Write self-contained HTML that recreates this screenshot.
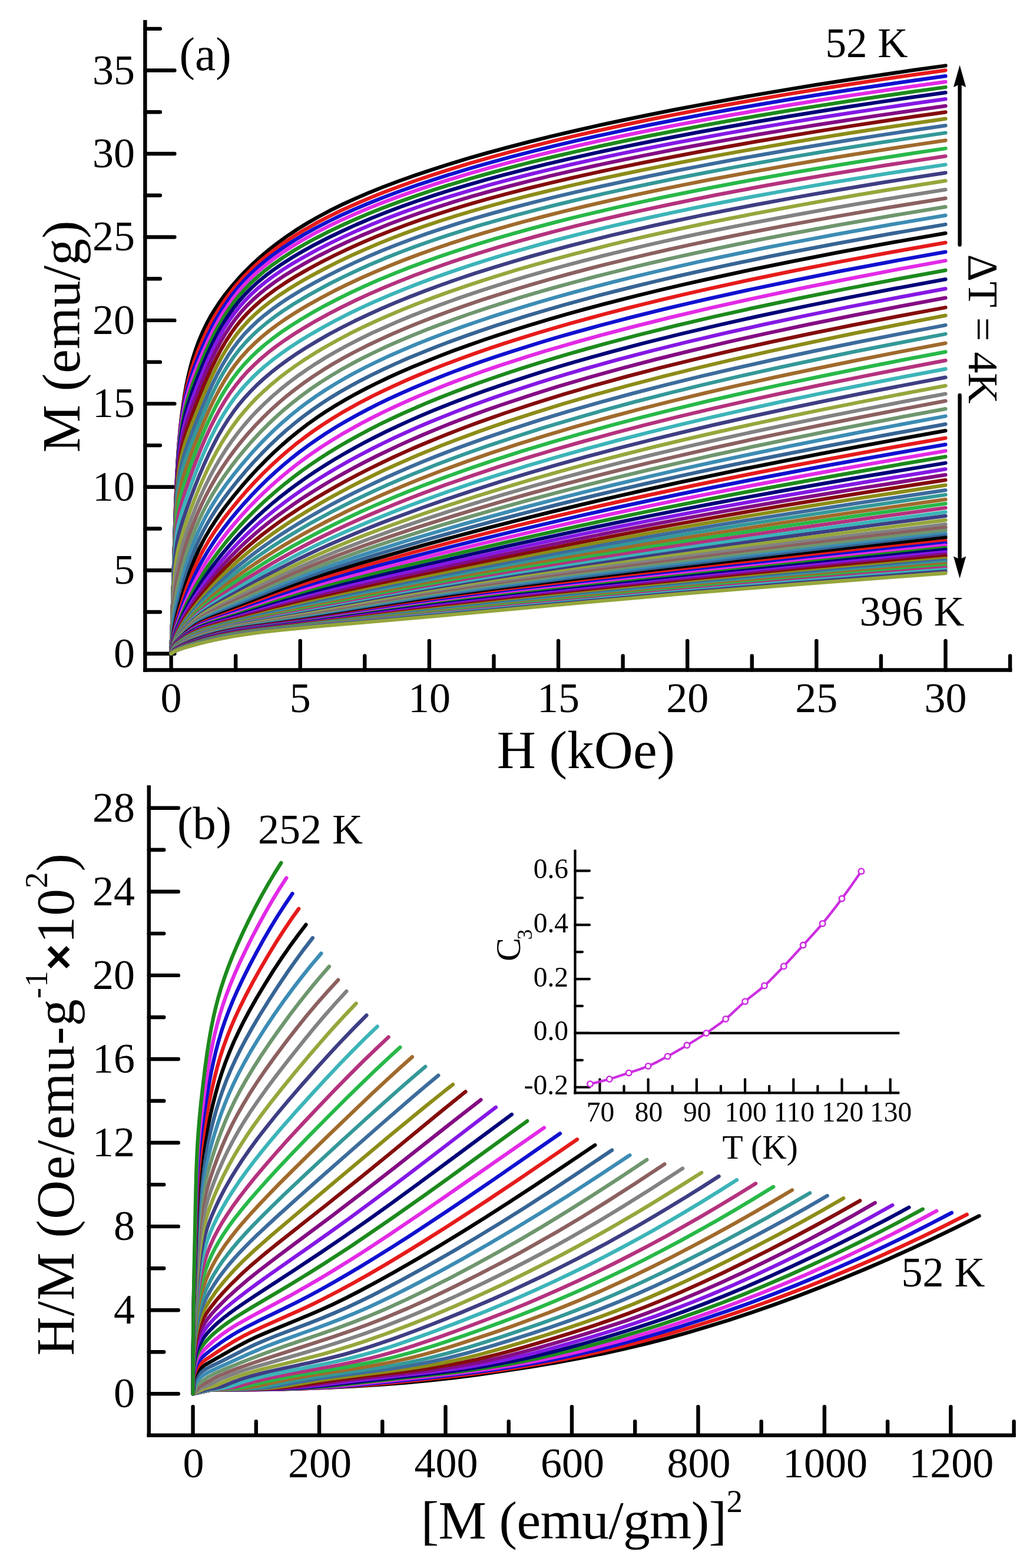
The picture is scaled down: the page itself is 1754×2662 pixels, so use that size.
<!DOCTYPE html>
<html lang="en">
<head>
<meta charset="utf-8">
<title>Magnetization isotherms and Arrott plot</title>
<style>
html,body{margin:0;padding:0;background:#fff;}
body{width:1754px;height:2662px;overflow:hidden;}
svg{display:block;}
text{white-space:pre;}
</style>
</head>
<body>
<svg width="1754" height="2662" viewBox="0 0 1754 2662" role="img" aria-label="Magnetization isotherms M(H) and Arrott plot">
<rect width="1754" height="2662" fill="#fff"/>
<line x1="246.4" y1="34" x2="246.4" y2="1140.7" stroke="#000" stroke-width="6.4" stroke-linecap="butt"/>
<line x1="243.2" y1="1137.5" x2="1718.4" y2="1137.5" stroke="#000" stroke-width="6.4" stroke-linecap="butt"/>
<line x1="246.4" y1="1109.7" x2="296.4" y2="1109.7" stroke="#000" stroke-width="6.4" stroke-linecap="round"/>
<line x1="246.4" y1="1038.98" x2="271.9" y2="1038.98" stroke="#000" stroke-width="6.4" stroke-linecap="round"/>
<line x1="246.4" y1="968.25" x2="296.4" y2="968.25" stroke="#000" stroke-width="6.4" stroke-linecap="round"/>
<line x1="246.4" y1="897.525" x2="271.9" y2="897.525" stroke="#000" stroke-width="6.4" stroke-linecap="round"/>
<line x1="246.4" y1="826.8" x2="296.4" y2="826.8" stroke="#000" stroke-width="6.4" stroke-linecap="round"/>
<line x1="246.4" y1="756.075" x2="271.9" y2="756.075" stroke="#000" stroke-width="6.4" stroke-linecap="round"/>
<line x1="246.4" y1="685.35" x2="296.4" y2="685.35" stroke="#000" stroke-width="6.4" stroke-linecap="round"/>
<line x1="246.4" y1="614.625" x2="271.9" y2="614.625" stroke="#000" stroke-width="6.4" stroke-linecap="round"/>
<line x1="246.4" y1="543.9" x2="296.4" y2="543.9" stroke="#000" stroke-width="6.4" stroke-linecap="round"/>
<line x1="246.4" y1="473.175" x2="271.9" y2="473.175" stroke="#000" stroke-width="6.4" stroke-linecap="round"/>
<line x1="246.4" y1="402.45" x2="296.4" y2="402.45" stroke="#000" stroke-width="6.4" stroke-linecap="round"/>
<line x1="246.4" y1="331.725" x2="271.9" y2="331.725" stroke="#000" stroke-width="6.4" stroke-linecap="round"/>
<line x1="246.4" y1="261" x2="296.4" y2="261" stroke="#000" stroke-width="6.4" stroke-linecap="round"/>
<line x1="246.4" y1="190.275" x2="271.9" y2="190.275" stroke="#000" stroke-width="6.4" stroke-linecap="round"/>
<line x1="246.4" y1="119.55" x2="296.4" y2="119.55" stroke="#000" stroke-width="6.4" stroke-linecap="round"/>
<line x1="246.4" y1="48.825" x2="271.9" y2="48.825" stroke="#000" stroke-width="6.4" stroke-linecap="round"/>
<line x1="290.6" y1="1137.5" x2="290.6" y2="1088" stroke="#000" stroke-width="6.4" stroke-linecap="round"/>
<line x1="400.175" y1="1137.5" x2="400.175" y2="1113.5" stroke="#000" stroke-width="6.4" stroke-linecap="round"/>
<line x1="509.75" y1="1137.5" x2="509.75" y2="1088" stroke="#000" stroke-width="6.4" stroke-linecap="round"/>
<line x1="619.325" y1="1137.5" x2="619.325" y2="1113.5" stroke="#000" stroke-width="6.4" stroke-linecap="round"/>
<line x1="728.9" y1="1137.5" x2="728.9" y2="1088" stroke="#000" stroke-width="6.4" stroke-linecap="round"/>
<line x1="838.475" y1="1137.5" x2="838.475" y2="1113.5" stroke="#000" stroke-width="6.4" stroke-linecap="round"/>
<line x1="948.05" y1="1137.5" x2="948.05" y2="1088" stroke="#000" stroke-width="6.4" stroke-linecap="round"/>
<line x1="1057.62" y1="1137.5" x2="1057.62" y2="1113.5" stroke="#000" stroke-width="6.4" stroke-linecap="round"/>
<line x1="1167.2" y1="1137.5" x2="1167.2" y2="1088" stroke="#000" stroke-width="6.4" stroke-linecap="round"/>
<line x1="1276.78" y1="1137.5" x2="1276.78" y2="1113.5" stroke="#000" stroke-width="6.4" stroke-linecap="round"/>
<line x1="1386.35" y1="1137.5" x2="1386.35" y2="1088" stroke="#000" stroke-width="6.4" stroke-linecap="round"/>
<line x1="1495.93" y1="1137.5" x2="1495.93" y2="1113.5" stroke="#000" stroke-width="6.4" stroke-linecap="round"/>
<line x1="1605.5" y1="1137.5" x2="1605.5" y2="1088" stroke="#000" stroke-width="6.4" stroke-linecap="round"/>
<line x1="1715.07" y1="1137.5" x2="1715.07" y2="1113.5" stroke="#000" stroke-width="6.4" stroke-linecap="round"/>
<g font-family='"Liberation Serif", "Times New Roman", serif' fill="#000">
<text x="229" y="1132.7" font-size="72" text-anchor="end">0</text>
<text x="229" y="991.25" font-size="72" text-anchor="end">5</text>
<text x="229" y="849.8" font-size="72" text-anchor="end">10</text>
<text x="229" y="708.35" font-size="72" text-anchor="end">15</text>
<text x="229" y="566.9" font-size="72" text-anchor="end">20</text>
<text x="229" y="425.45" font-size="72" text-anchor="end">25</text>
<text x="229" y="284" font-size="72" text-anchor="end">30</text>
<text x="229" y="142.55" font-size="72" text-anchor="end">35</text>
<text x="290.6" y="1209" font-size="72" text-anchor="middle">0</text>
<text x="509.75" y="1209" font-size="72" text-anchor="middle">5</text>
<text x="728.9" y="1209" font-size="72" text-anchor="middle">10</text>
<text x="948.05" y="1209" font-size="72" text-anchor="middle">15</text>
<text x="1167.2" y="1209" font-size="72" text-anchor="middle">20</text>
<text x="1386.35" y="1209" font-size="72" text-anchor="middle">25</text>
<text x="1605.5" y="1209" font-size="72" text-anchor="middle">30</text>
<text x="994.8" y="1304.4" font-size="91.5" text-anchor="middle">H (kOe)</text>
<text x="134.5" y="571.5" font-size="91.5" text-anchor="middle" transform="rotate(-90 134.5 571.5)">M (emu/g)</text>
<text x="304.5" y="118.6" font-size="79.5" text-anchor="start">(a)</text>
<text x="1471.5" y="97.3" font-size="71" text-anchor="middle">52 K</text>
<text x="1548.5" y="1062.4" font-size="72" text-anchor="middle">396 K</text>
<text x="1645" y="558.5" font-size="72" text-anchor="middle" transform="rotate(90 1645 558.5)">ΔT = 4K</text>
</g>
<line x1="252.8" y1="1333.3" x2="252.8" y2="2439.9" stroke="#000" stroke-width="6.4" stroke-linecap="butt"/>
<line x1="249.6" y1="2436.7" x2="1724.7" y2="2436.7" stroke="#000" stroke-width="6.4" stroke-linecap="butt"/>
<line x1="252.8" y1="2366.3" x2="302.8" y2="2366.3" stroke="#000" stroke-width="6.4" stroke-linecap="round"/>
<line x1="252.8" y1="2295.26" x2="278.3" y2="2295.26" stroke="#000" stroke-width="6.4" stroke-linecap="round"/>
<line x1="252.8" y1="2224.22" x2="302.8" y2="2224.22" stroke="#000" stroke-width="6.4" stroke-linecap="round"/>
<line x1="252.8" y1="2153.18" x2="278.3" y2="2153.18" stroke="#000" stroke-width="6.4" stroke-linecap="round"/>
<line x1="252.8" y1="2082.14" x2="302.8" y2="2082.14" stroke="#000" stroke-width="6.4" stroke-linecap="round"/>
<line x1="252.8" y1="2011.1" x2="278.3" y2="2011.1" stroke="#000" stroke-width="6.4" stroke-linecap="round"/>
<line x1="252.8" y1="1940.06" x2="302.8" y2="1940.06" stroke="#000" stroke-width="6.4" stroke-linecap="round"/>
<line x1="252.8" y1="1869.02" x2="278.3" y2="1869.02" stroke="#000" stroke-width="6.4" stroke-linecap="round"/>
<line x1="252.8" y1="1797.98" x2="302.8" y2="1797.98" stroke="#000" stroke-width="6.4" stroke-linecap="round"/>
<line x1="252.8" y1="1726.94" x2="278.3" y2="1726.94" stroke="#000" stroke-width="6.4" stroke-linecap="round"/>
<line x1="252.8" y1="1655.9" x2="302.8" y2="1655.9" stroke="#000" stroke-width="6.4" stroke-linecap="round"/>
<line x1="252.8" y1="1584.86" x2="278.3" y2="1584.86" stroke="#000" stroke-width="6.4" stroke-linecap="round"/>
<line x1="252.8" y1="1513.82" x2="302.8" y2="1513.82" stroke="#000" stroke-width="6.4" stroke-linecap="round"/>
<line x1="252.8" y1="1442.78" x2="278.3" y2="1442.78" stroke="#000" stroke-width="6.4" stroke-linecap="round"/>
<line x1="252.8" y1="1371.74" x2="302.8" y2="1371.74" stroke="#000" stroke-width="6.4" stroke-linecap="round"/>
<line x1="327.6" y1="2436.7" x2="327.6" y2="2388.2" stroke="#000" stroke-width="6.4" stroke-linecap="round"/>
<line x1="434.83" y1="2436.7" x2="434.83" y2="2413.2" stroke="#000" stroke-width="6.4" stroke-linecap="round"/>
<line x1="542.06" y1="2436.7" x2="542.06" y2="2388.2" stroke="#000" stroke-width="6.4" stroke-linecap="round"/>
<line x1="649.29" y1="2436.7" x2="649.29" y2="2413.2" stroke="#000" stroke-width="6.4" stroke-linecap="round"/>
<line x1="756.52" y1="2436.7" x2="756.52" y2="2388.2" stroke="#000" stroke-width="6.4" stroke-linecap="round"/>
<line x1="863.75" y1="2436.7" x2="863.75" y2="2413.2" stroke="#000" stroke-width="6.4" stroke-linecap="round"/>
<line x1="970.98" y1="2436.7" x2="970.98" y2="2388.2" stroke="#000" stroke-width="6.4" stroke-linecap="round"/>
<line x1="1078.21" y1="2436.7" x2="1078.21" y2="2413.2" stroke="#000" stroke-width="6.4" stroke-linecap="round"/>
<line x1="1185.44" y1="2436.7" x2="1185.44" y2="2388.2" stroke="#000" stroke-width="6.4" stroke-linecap="round"/>
<line x1="1292.67" y1="2436.7" x2="1292.67" y2="2413.2" stroke="#000" stroke-width="6.4" stroke-linecap="round"/>
<line x1="1399.9" y1="2436.7" x2="1399.9" y2="2388.2" stroke="#000" stroke-width="6.4" stroke-linecap="round"/>
<line x1="1507.13" y1="2436.7" x2="1507.13" y2="2413.2" stroke="#000" stroke-width="6.4" stroke-linecap="round"/>
<line x1="1614.36" y1="2436.7" x2="1614.36" y2="2388.2" stroke="#000" stroke-width="6.4" stroke-linecap="round"/>
<line x1="1721.59" y1="2436.7" x2="1721.59" y2="2413.2" stroke="#000" stroke-width="6.4" stroke-linecap="round"/>
<g fill="none" stroke-width="6.3" stroke-linejoin="round" stroke-linecap="round">
<path stroke="#000000" d="M290.6 1109.7L297.9 866.2L299.9 814.1L302.3 771.4L304 748.9L305.8 728.7L308.1 708.3L310.6 689.2L313.3 671.3L316.3 654.5L319.6 638.9L323.2 623.6L327.7 607.6L332.6 592.5L337.9 578.2L343.9 564.1L350.3 550.6L357.5 537.2L365.3 524.4L373.5 512L383.1 498.9L393.3 486.2L404.6 473.2L416.6 460.4L429.2 448.1L442.3 436.1L455.8 424.7L469.8 413.7L485.8 402L503.2 390.3L521.1 379.2L539.4 368.7L559 358.2L580.3 347.7L601.7 337.8L624.7 327.9L649.4 317.9L676 307.9L704.5 297.7L733 288.2L763.4 278.5L796 268.6L828.2 259.4L862.5 250.1L899 240.6L937.8 231L975.9 222.1L1016.1 213L1058.7 203.8L1100 195.3L1143.5 186.7L1189.3 178L1237.6 169.1L1283.7 161L1337.1 152L1388.1 143.7L1441.5 135.4L1491.9 127.8L1550.4 119.2L1605.5 111.5"/>
<path stroke="#e61a1a" d="M290.6 1109.7L297.7 871.6L299.7 819.2L301.9 778.4L303.4 757.1L305 738.1L306.8 720.5L308.9 704L311.2 688.3L313.8 673.4L316.6 659.7L319.7 646.5L324.3 629.8L329.7 613.3L336.1 596L343.4 578.6L350.9 562.3L358.8 546.8L367.1 532.3L375.9 518.2L384.9 505.2L394.8 492.1L404.6 480.3L415.4 468.4L426.6 457.2L438.7 446L452 434.8L465.5 424.2L481.2 412.9L498.2 401.5L516.8 390.2L535.8 379.4L556.5 368.5L577.5 358.2L600.2 347.8L624.7 337.3L651.1 326.7L677.8 316.6L706.4 306.4L735.1 296.8L765.7 287L798.4 277.1L830.8 267.7L865.3 258.3L901.9 248.7L937.8 239.8L975.9 230.7L1016.1 221.6L1058.7 212.3L1100 203.7L1143.5 195L1189.3 186.2L1237.6 177.3L1283.7 169.1L1337.1 160L1388.1 151.7L1441.5 143.3L1491.9 135.6L1550.4 127.1L1605.5 119.3"/>
<path stroke="#1010d0" d="M290.6 1109.7L297.5 877.3L299.5 826.2L301.5 786.2L302.9 765.6L304.4 747.4L306.1 730.6L307.9 715L310 700.5L312.4 686.8L314.9 674.5L317.8 662.1L322.5 645.7L328.1 628.9L335.5 609.2L343.9 589L351.7 571.7L360.1 554.8L368.9 538.9L378 523.9L387.1 510.2L396.3 497.9L405.7 486.3L416 474.8L427.2 463.5L438.7 452.9L451.2 442.3L464.7 431.8L481.2 420.1L498.2 409L516.8 397.8L535.8 387.2L556.5 376.5L578.9 365.7L601.7 355.4L626.3 345L652.9 334.4L679.6 324.4L708.4 314.3L737.2 304.7L768 294.9L800.8 285L833.4 275.7L868 266.3L904.8 256.8L940.9 247.8L979.1 238.8L1019.6 229.7L1062.4 220.5L1103.9 211.9L1147.5 203.3L1193.6 194.5L1242.1 185.7L1288.5 177.6L1337.1 169.4L1388.1 161.2L1441.5 152.8L1491.9 145.3L1550.4 136.8L1605.5 129.1"/>
<path stroke="#e22ae6" d="M290.6 1109.7L297.4 881.2L299.3 831L301.3 792.5L302.6 773.1L304 755.9L305.6 739.5L307.4 725L309.4 711L311.6 698.5L314.1 686.1L316.9 674.3L321.7 657.7L327.5 640.6L336.1 618.2L345.4 595.8L353.8 577.3L362.1 560.5L370.8 544.6L379.6 529.8L388.5 516.4L397.3 504.4L406.8 492.6L416.6 481.7L427.2 470.9L438.7 460.3L451.2 449.8L464.7 439.4L480.3 428.4L497.2 417.5L515.7 406.4L535.8 395.3L556.5 384.7L578.9 374L603.2 363.1L627.9 352.7L652.9 342.8L679.6 332.8L708.4 322.7L737.2 313.1L768 303.4L800.8 293.6L833.4 284.3L868 275L904.8 265.5L940.9 256.7L979.1 247.8L1019.6 238.7L1062.4 229.6L1103.9 221.1L1147.5 212.5L1193.6 203.9L1242.1 195.1L1288.5 187.1L1337.1 178.9L1388.1 170.7L1441.5 162.5L1491.9 155L1550.4 146.5L1605.5 138.9"/>
<path stroke="#1c8a1c" d="M290.6 1109.7L297.3 887.3L299.1 838L301.1 800.3L302.3 781.4L303.7 764.8L305.2 749.6L306.9 735.7L308.9 722.2L311 710.1L313.4 698.2L316.2 686.9L321 670.3L327 652.7L336.3 628.3L345.9 605L354.4 586L362.8 568.8L371.2 553.1L380.1 538L389 524.4L397.8 512.2L406.8 501L416.6 490.1L427.2 479.3L438.7 468.8L451.2 458.4L463.9 448.8L480.3 437.3L497.2 426.5L515.7 415.6L535.8 404.6L557.8 393.4L580.3 382.6L604.7 371.6L629.5 361.2L654.6 351.2L681.5 341.2L708.4 331.7L737.2 322.1L768 312.4L798.4 303.3L830.8 294.1L865.3 284.8L901.9 275.3L937.8 266.6L975.9 257.7L1016.1 248.7L1058.7 239.6L1100 231.2L1143.5 222.6L1189.3 214L1237.6 205.2L1283.7 197.2L1337.1 188.2L1388.1 180L1441.5 171.7L1491.9 164.1L1550.4 155.7L1605.5 148"/>
<path stroke="#000078" d="M290.6 1109.7L297.1 893.4L299 844.4L300.8 808.5L302.1 790.2L303.4 774.2L304.9 759.7L306.5 746.5L308.4 733.7L310.6 721.7L313 710.3L315.7 699.3L320.6 682.7L326.8 664.4L337 637.7L346.7 613.9L355 595.1L363.5 577.5L371.9 561.6L380.5 546.9L389 533.8L397.3 522.2L406.3 510.9L416 500L426.6 489.3L438 478.8L450.4 468.6L463.1 459L478.5 448.3L496.3 437L514.6 426.2L535.8 414.6L557.8 403.4L580.3 392.6L604.7 381.5L629.5 370.9L654.6 360.9L679.6 351.4L706.4 341.9L735.1 332.2L763.4 323.2L793.6 314.2L825.7 305L857.1 296.5L893.3 287.2L928.7 278.5L969.4 269L1009.2 260L1051.5 251L1092.3 242.6L1139.4 233.3L1185 224.6L1233.1 215.8L1283.7 206.9L1337.1 197.9L1388.1 189.6L1441.5 181.1L1491.9 173.5L1550.4 164.9L1605.5 157.1"/>
<path stroke="#8418e4" d="M290.6 1109.7L297 899.5L298.8 851L300.6 816.1L301.8 799.2L303.1 784L304.5 770.2L306.1 757.7L308 745.6L310.2 733.8L312.6 723L315.4 712L320.4 695.1L326.8 676.5L337.9 647.4L347.8 623.1L356.3 603.9L364.6 586.6L372.7 571.2L381.3 556.3L389.9 543L398.3 531.4L407.4 520.1L416.6 509.7L427.2 499.1L438.7 488.7L450.4 479.1L463.9 469L479.4 458.4L497.2 447.2L516.8 435.9L538.2 424.3L560.3 413L584.4 401.5L607.7 391L632.8 380.4L658.1 370.2L683.4 360.7L710.4 351.1L737.2 342.1L765.7 333L796 323.9L828.2 314.8L859.8 306.2L896.1 296.9L931.7 288.2L969.4 279.4L1009.2 270.5L1051.5 261.5L1092.3 253.1L1139.4 243.9L1185 235.3L1233.1 226.5L1283.7 217.7L1332.1 209.5L1382.8 201.2L1436.1 192.9L1491.9 184.5L1550.4 175.9L1605.5 168.2"/>
<path stroke="#840c84" d="M290.6 1109.7L296.8 906.4L298.6 858.5L300.4 823.8L301.6 807.6L302.8 793.7L304.1 781.2L305.7 769.3L307.5 758.1L309.7 747L312.1 736.4L314.8 726L320 708.9L326.8 689.5L339 657.7L349.2 632.9L357.5 614.1L365.6 597.3L373.9 581.7L382.6 566.7L391.4 553.2L399.8 541.5L409 530.2L418.4 519.8L429.2 509.2L440.8 498.8L452.7 489.1L466.4 479L482.1 468.4L500.2 457.2L520 445.8L541.7 434.1L564.2 422.7L588.7 411.1L612.2 400.5L637.7 389.8L661.6 380.2L687.1 370.6L714.4 360.9L741.5 351.9L770.2 342.8L800.8 333.6L833.4 324.4L865.3 315.9L899 307.2L934.8 298.5L972.6 289.7L1012.7 280.8L1055.1 271.8L1096.2 263.5L1143.5 254.2L1189.3 245.7L1237.6 237L1288.5 228.2L1337.1 220L1388.1 211.8L1441.5 203.6L1491.9 196L1550.4 187.6L1605.5 179.9"/>
<path stroke="#840c0c" d="M290.6 1109.7L296.6 913.9L298.4 866.7L300.2 832.9L302.4 804.3L303.7 792.3L305.2 781.1L306.9 771L308.9 760.7L311.3 750.8L314 740.7L319.2 724.3L326 705.5L340.2 669.2L350.6 644.1L358.8 625.7L367.1 608.8L375.5 592.9L384 578.5L392.8 565L401.4 553.2L410.7 541.8L420.2 531.5L431.2 520.8L442.3 510.9L455.1 500.7L468.9 490.5L484.9 479.8L503.2 468.5L523.3 457L545.4 445.1L568.1 433.5L591.5 422.4L615.3 411.6L639.3 401.4L663.3 391.8L689 382.1L714.4 373L741.5 363.9L770.2 354.8L798.4 346.3L828.2 337.8L859.8 329.3L896.1 319.9L931.7 311.2L969.4 302.4L1009.2 293.5L1051.5 284.5L1092.3 276.1L1139.4 266.8L1185 258.2L1233.1 249.4L1283.7 240.4L1337.1 231.3L1388.1 223L1441.5 214.5L1491.9 206.8L1550.4 198.2L1605.5 190.3"/>
<path stroke="#8c8c18" d="M290.6 1109.7L296.3 923.7L298.2 875.4L299.9 842L301 827.6L302.1 814.7L303.4 803.4L304.8 793.3L306.4 783.8L308.3 774.7L310.7 765.1L313.3 755.7L318.5 740L325.6 720.7L341.6 680.6L352.3 655.2L360.8 636.6L368.9 620.2L377.1 605L385.8 590.5L394.3 577.7L403 565.9L412.5 554.6L422.7 543.5L433.9 532.8L445.2 523L458.2 512.7L472.3 502.5L488.6 491.8L507.3 480.3L527.8 468.6L550.3 456.6L572.1 445.5L595.8 434.1L620 423.3L644.3 412.9L668.7 403.1L692.8 394L718.5 384.8L745.8 375.6L772.5 367.1L800.8 358.5L830.8 350L862.5 341.3L899 331.9L934.8 323.1L972.6 314.2L1012.7 305.2L1055.1 296.1L1096.2 287.6L1143.5 278.2L1189.3 269.4L1237.6 260.5L1288.5 251.5L1337.1 243.2L1388.1 234.7L1441.5 226.2L1491.9 218.4L1550.4 209.6L1605.5 201.7"/>
<path stroke="#3c6c9c" d="M290.6 1109.7L296 935.5L297.9 885.8L299.8 851.4L300.8 837.9L301.9 826L303.2 815.6L304.6 806.3L306.3 797.2L308.3 788.5L310.7 779.2L313.4 769.9L319.2 753.1L327 732.4L342.4 693.9L353.2 668.4L361.8 649.8L370 633.5L378.4 618.3L387.1 603.8L396.3 590.4L405.2 578.7L414.8 567.3L425.3 556.4L436.6 545.7L448.9 535.2L462.3 524.9L476.7 514.6L493.3 503.7L512.5 492.1L533.5 480.3L555.2 468.7L577.5 457.5L601.7 446L624.7 435.7L649.4 425.2L674.1 415.3L698.6 406.1L724.6 396.8L750.1 388.2L779.4 378.8L808.2 370.1L838.6 361.4L870.8 352.6L904.8 343.7L940.9 334.8L979.1 325.7L1019.6 316.6L1062.4 307.3L1103.9 298.7L1147.5 289.9L1193.6 281L1242.1 271.9L1288.5 263.6L1337.1 255.1L1388.1 246.6L1441.5 237.9L1491.9 230L1550.4 221.2L1605.5 213.1"/>
<path stroke="#349898" d="M290.6 1109.7L295.5 950.1L297.7 896.6L299.7 861.6L300.7 849.3L301.8 838.5L303.1 828.6L304.6 819.9L306.4 811.4L308.5 802.7L311.3 792.9L314.4 782.7L321.3 763.2L331 737.7L343.4 707L353.5 683.4L362.1 664.9L370.8 647.9L379.2 632.9L388.1 618.6L396.8 605.9L406.3 593.6L416.6 581.7L427.2 570.7L439.4 559.3L452 548.8L465.5 538.4L481.2 527.4L498.2 516.4L516.8 505.3L538.2 493.2L560.3 481.4L581.7 470.7L604.7 459.8L627.9 449.4L652.9 438.8L677.8 428.9L702.5 419.5L728.8 410.1L756.7 400.7L784.1 391.9L813.1 383.1L843.8 374.2L876.3 365.2L910.7 356.2L947.1 347.1L985.7 337.9L1023 329.3L1066.1 319.9L1107.7 311.1L1151.6 302.2L1197.9 293.2L1246.6 284L1293.2 275.6L1342.1 267L1393.3 258.4L1447 249.6L1497.6 241.7L1550.4 233.6L1605.5 225.5"/>
<path stroke="#a06a2c" d="M290.6 1109.7L295 964.8L297.5 907L298.7 886.5L299.8 870.3L300.9 859.2L302.2 849.1L303.6 840.3L305.2 832.1L307.4 823.3L310.3 812.8L313.8 801.6L317.7 789.8L326.1 766.4L337 738.5L346.2 716.1L355 696L363.5 678.4L372.3 661.6L381.3 646L390.4 631.9L399.8 618.7L409.6 606.6L420.2 594.8L431.2 583.9L443.7 572.6L456.6 562L470.6 551.5L486.7 540.4L504.2 529.2L523.3 517.8L544.1 506.2L566.8 494.2L588.7 483.4L612.2 472.3L636 461.8L659.8 451.8L685.2 441.7L710.4 432.2L737.2 422.6L765.7 413L793.6 404.1L823.1 395.1L854.4 386L887.6 376.8L922.6 367.6L956.6 359L995.7 349.6L1033.6 340.9L1073.5 332L1115.5 323.1L1159.9 314L1202.2 305.7L1246.6 297.3L1293.2 288.8L1342.1 280.1L1393.3 271.4L1447 262.6L1497.6 254.6L1550.4 246.5L1605.5 238.3"/>
<path stroke="#28b848" d="M290.6 1109.7L295 965.6L297.6 911.9L298.9 893.1L300.2 878.5L301.4 868.5L302.8 859.8L304.5 851.5L306.5 843.3L310.2 830.4L314.7 816.2L319.6 801.6L325 786.3L333.8 762.9L342.9 740.4L351.2 721.1L359.5 703.4L368.2 686.3L376.7 671L385.8 656.4L394.8 643.2L404.1 631L414.2 619L425.3 607.3L436.6 596.5L449.7 585.1L463.1 574.5L477.6 563.9L493.3 553.3L511.5 541.9L531.2 530.3L551.5 519.1L573.5 507.6L595.8 496.6L620 485.4L644.3 474.7L668.7 464.6L694.7 454.3L720.5 444.7L747.9 435L777.1 425.2L808.2 415.3L838.6 406L870.8 396.7L901.9 388.1L937.8 378.6L972.6 369.8L1009.2 361L1047.8 352L1088.5 343L1127.4 334.7L1168.2 326.3L1210.9 317.9L1255.8 309.4L1302.8 300.8L1352.1 292.1L1398.5 284.3L1447 276.3L1497.6 268.3L1550.4 260.2L1605.5 252"/>
<path stroke="#b4327e" d="M290.6 1109.7L295 966.8L296.4 940L297.7 919.2L299 902.8L300.4 890.2L301.8 880.5L303.6 871.8L305.6 863.5L308.8 852.7L314.2 835.3L320 817.9L326.1 800.5L332.8 782.8L340.9 762.4L348.9 743.6L356.9 726.2L365.3 709.5L373.5 694.5L382.2 679.9L391.4 666.1L400.4 653.9L410.2 641.8L420.2 630.7L431.2 619.7L443 608.9L455.8 598.1L468.9 588L483.9 577.3L499.2 567.2L516.8 556.2L537 544.4L557.8 533L580.3 521.4L603.2 510.2L626.3 499.5L651.1 488.6L676 478.4L702.5 467.9L728.8 458.1L756.7 448.2L784.1 439L815.6 428.9L846.4 419.5L879.1 409.9L910.7 401.1L944 392.3L979.1 383.3L1016.1 374.2L1055.1 365.1L1092.3 356.7L1131.4 348.3L1172.4 339.8L1215.3 331.2L1260.4 322.6L1302.8 314.7L1352.1 305.9L1398.5 297.9L1447 289.8L1497.6 281.7L1550.4 273.5L1605.5 265.2"/>
<path stroke="#3cb4b8" d="M290.6 1109.7L295 968.3L296.3 946.5L297.6 929.2L299 915.1L300.4 904.1L302.2 894.1L304.5 884.5L307.5 874L313.4 855.4L319.4 837.7L325.8 819.8L332.6 801.9L339.7 784L347.8 765L355.6 747.9L363.9 731.3L371.9 716.4L380.5 701.9L389 688.8L397.8 676.4L406.8 664.9L416.6 653.6L427.2 642.4L438.7 631.4L450.4 621.1L463.9 610.2L477.6 600L492.4 589.7L508.3 579.3L527.8 567.4L547.8 556L568.1 545L590.1 533.7L612.2 523L636 512.1L661.6 501.1L687.1 490.6L712.4 480.7L739.3 470.8L768 460.7L796 451.2L825.7 441.7L857.1 432.1L890.4 422.4L922.6 413.4L956.6 404.4L992.3 395.2L1030 386L1066.1 377.6L1103.9 369.1L1143.5 360.5L1185 351.9L1224.2 344.1L1269.6 335.4L1312.5 327.5L1357.2 319.5L1403.8 311.4L1452.5 303.3L1503.3 295.2L1556.4 286.9L1605.5 279.5"/>
<path stroke="#3e3e84" d="M290.6 1109.7L295 976.1L296.3 958L297.7 942.8L299.1 930.5L300.6 920.7L302.7 910.1L305.6 899.2L311.2 881.3L317.6 862.2L324.2 843.8L331.4 824.8L339 805.9L346.5 788.5L354.4 771.2L362.5 754.9L370.4 740L378.8 725.6L387.6 711.7L396.3 699.2L405.2 687.5L414.8 676L425.3 664.6L435.9 653.9L448.2 642.6L460.6 632.1L474.1 621.5L488.6 610.9L504.2 600.2L520 590.1L539.4 578.5L559 567.3L580.3 556L601.7 545.2L624.7 534.3L647.7 523.9L672.3 513.4L696.7 503.5L722.6 493.5L750.1 483.4L777.1 473.9L805.7 464.3L836 454.7L868 444.9L899 435.9L931.7 426.8L966.1 417.6L999.1 409.2L1037.1 399.8L1073.5 391.2L1111.6 382.6L1147.5 374.8L1189.3 366L1228.6 358.1L1269.6 350.1L1312.5 342.1L1357.2 334L1403.8 325.8L1452.5 317.6L1503.3 309.2L1556.4 300.8L1605.5 293.3"/>
<path stroke="#96a63c" d="M290.6 1109.7L295 992L296.5 974.8L298 960.3L299.5 948.8L301.4 938.3L304.4 925L308.7 909.7L314.7 890.6L321.4 871.1L328.6 851.9L336.6 832.1L344.4 814L352.3 796.8L360.5 780.5L368.9 764.8L377.5 750L386.7 735.7L395.8 722.5L405.2 710L414.8 698.3L425.3 686.5L436.6 674.8L448.2 663.8L460.6 652.7L474.1 641.6L488.6 630.5L503.2 620L519 609.4L535.8 598.8L554 588.1L573.5 577.2L594.4 566.2L615.3 555.9L637.7 545.4L659.8 535.6L683.4 525.7L708.4 515.7L735.1 505.5L761.2 496L788.8 486.4L818.1 476.7L846.4 467.7L876.3 458.6L907.8 449.5L940.9 440.2L972.6 431.7L1005.8 423.2L1040.7 414.5L1077.2 405.8L1115.5 397.1L1151.6 389.1L1193.6 380.2L1233.1 372.1L1274.3 364L1317.3 355.8L1362.3 347.5L1409.1 339.2L1458.1 330.7L1503.3 323.2L1556.4 314.6L1605.5 306.9"/>
<path stroke="#828282" d="M290.6 1109.7L295 1009.6L296.7 992.4L298.5 977.6L300.4 965.5L302.7 953.7L306.7 937.6L312.2 918.2L318.2 899.3L324.8 880.7L332 862.3L339.7 844L347.8 826.5L356.3 809.6L364.9 793.7L373.9 778.4L383.1 763.9L392.8 749.8L403 736.1L413.6 722.9L424.6 710.2L436.6 697.4L448.9 685.2L462.3 672.9L475.8 661.3L489.5 650.3L504.2 639.2L520 628.1L535.8 617.7L552.7 607.3L570.8 596.8L590.1 586.2L610.7 575.6L631.1 565.7L652.9 555.8L676 545.7L700.5 535.5L724.6 526.1L750.1 516.5L777.1 506.8L805.7 497L833.4 487.9L862.5 478.8L893.3 469.6L925.6 460.2L956.6 451.7L989 443.1L1023 434.4L1058.7 425.7L1092.3 417.7L1127.4 409.8L1164 401.7L1202.2 393.7L1242.1 385.5L1283.7 377.3L1327.2 369.1L1372.5 360.8L1414.5 353.3L1463.6 344.9L1509.1 337.3L1605.5 321.9"/>
<path stroke="#8c6060" d="M290.6 1109.7L295 1024.8L297 1007.3L299.1 992.3L301.6 978.8L304.6 965.2L309.5 946.3L315.1 927L321.1 908.7L327.7 890.7L334.6 873.6L342.1 856.9L350.3 840.2L358.8 824.3L367.8 808.9L377.5 793.5L387.6 778.7L398.3 764.1L409.6 749.7L421.5 735.6L433.9 721.9L446.7 708.7L459.8 696L473.2 683.9L487.6 671.7L502.2 660.2L516.8 649.4L532.4 638.6L549 627.8L565.5 617.8L583 607.8L601.7 597.7L621.5 587.7L642.7 577.6L665.1 567.4L687.1 557.9L710.4 548.4L735.1 538.8L761.2 529L788.8 519.2L815.6 510.1L843.8 500.9L873.5 491.7L901.9 483.2L934.8 473.8L966.1 465.1L999.1 456.4L1030 448.5L1066.1 439.7L1100 431.7L1135.4 423.6L1172.4 415.5L1210.9 407.3L1251.2 399.1L1293.2 390.8L1332.1 383.4L1377.7 375L1419.8 367.5L1509.1 352.2L1605.5 336.6"/>
<path stroke="#6e966e" d="M290.6 1109.7L295 1039.2L295.5 1034.7L297.9 1017.9L300.5 1002.7L303.8 987.3L308 970.3L313.3 951L319 932.5L325 915.1L331.2 898.8L337.7 883.7L344.9 868.4L352.9 853.1L361.5 838.1L371.2 822.6L381.3 807.5L392.3 792.3L404.6 776.4L417.2 761.2L429.8 746.8L443 732.7L456.6 719.1L469.8 706.7L483.9 694.2L498.2 682.4L513.6 670.5L528.9 659.4L544.1 649.1L560.3 638.9L577.5 628.6L595.8 618.4L613.8 608.9L634.4 598.7L654.6 589.2L676 579.7L698.6 570.1L722.6 560.4L745.8 551.5L770.2 542.5L796 533.4L823.1 524.2L851.8 515L881.9 505.6L910.7 497L940.9 488.4L972.6 479.7L1005.8 470.9L1037.1 463L1073.5 454L1107.7 445.9L1143.5 437.8L1180.8 429.6L1219.7 421.3L1255.8 413.9L1298 405.4L1337.1 397.9L1419.8 382.6L1509.1 367.1L1605.5 351.2"/>
<path stroke="#3c8cb4" d="M290.6 1109.7L295 1053.2L296.9 1040.3L299.7 1024.3L303.2 1007.9L307.8 989.2L313.1 969.4L318.4 951.8L323.7 935.6L329.3 920.2L335.1 906.2L341.4 892.3L348.1 879.1L355.3 866L363.5 852.5L373.5 837.3L384.4 821.9L396.8 805.7L410.2 789.1L423.4 773.7L436.6 759.1L450.4 744.7L464.7 730.8L478.5 718.1L493.3 705.4L507.3 694.1L522.2 682.8L537 672.4L552.7 662L569.5 651.6L585.8 642.1L603.2 632.5L621.5 623L641 613.5L661.6 603.9L683.4 594.3L706.4 584.7L730.9 574.9L754.5 565.9L779.4 556.8L805.7 547.6L833.4 538.3L859.8 529.8L887.6 521.2L916.6 512.5L947.1 503.7L979.1 494.9L1012.7 486L1044.3 477.9L1077.2 469.7L1111.6 461.5L1147.5 453.2L1185 444.8L1224.2 436.3L1260.4 428.8L1302.8 420.2L1342.1 412.5L1425.2 396.8L1514.9 380.9L1605.5 365.6"/>
<path stroke="#366494" d="M290.6 1109.7L295 1064.1L298.1 1046.2L301.7 1029.1L306.3 1010.4L312 989.3L317.7 969.9L322.8 954.5L328.1 939.8L333.4 926.5L339 913.9L345.1 901.5L352 888.9L359.5 876.4L367.4 864.1L378 849L389.5 833.6L403 816.6L417.2 799.7L430.5 784.7L444.5 769.8L458.2 756L472.3 742.7L485.8 730.7L500.2 718.6L514.6 707.2L530.1 695.9L545.4 685.4L560.3 675.7L577.5 665.3L594.4 655.7L612.2 646.1L631.1 636.5L651.1 626.8L670.5 618L692.8 608.2L714.4 599.3L739.3 589.4L763.4 580.2L788.8 571L813.1 562.5L841.2 553.1L868 544.4L896.1 535.7L925.6 526.9L956.6 518L985.7 510L1016.1 501.8L1047.8 493.6L1081 485.4L1115.5 477L1151.6 468.6L1185 461.1L1224.2 452.5L1260.4 444.9L1302.8 436.2L1342.1 428.4L1425.2 412.6L1514.9 396.4L1605.5 381"/>
<path stroke="#000000" d="M290.6 1109.7L295 1070.9L299 1051.2L303.4 1032.8L309.1 1012L315 992.4L321 974.3L326.1 960.1L331.6 946.6L337.2 934L343.1 922L349.7 909.8L356.9 897.7L364.6 885.7L373.1 873.2L384 858.4L396.3 842.7L410.2 825.9L424 810.1L437.3 795.7L451.2 781.5L465.5 767.6L479.4 755L493.3 743L507.3 731.7L522.2 720.3L537 709.7L552.7 699.2L568.1 689.5L585.8 679L603.2 669.3L621.5 659.6L639.3 650.7L659.8 640.9L679.6 631.9L700.5 622.9L722.6 613.8L745.8 604.6L770.2 595.3L796 586L820.6 577.4L846.4 568.7L873.5 560L901.9 551.2L931.7 542.3L962.9 533.3L992.3 525.1L1023 516.9L1055.1 508.6L1088.5 500.2L1123.4 491.8L1159.9 483.2L1193.6 475.6L1265 460.1L1342.1 444.3L1425.2 428.1L1514.9 411.7L1605.5 395.9"/>
<path stroke="#e61a1a" d="M290.6 1109.7L295 1075.1L297.1 1065.3L299.5 1055.1L304.5 1037L311 1016L317.3 997.2L323.7 980.1L329.3 966.4L335.1 953.8L341.1 941.5L347.8 929.3L355 917L363.2 904.3L371.9 891.6L381.3 878.7L393.3 863.4L406.3 847.7L419 833L432.5 818.4L445.9 804.5L459.8 791L473.2 778.7L487.6 766.1L502.2 754.1L516.8 742.9L531.2 732.4L546.6 721.9L562.9 711.4L578.9 701.6L595.8 691.9L613.8 682.1L632.8 672.3L651.1 663.3L670.5 654.3L690.9 645.2L712.4 636L735.1 626.7L759 617.4L781.8 608.9L805.7 600.3L830.8 591.6L857.1 582.8L884.7 574L913.7 565.1L940.9 557L969.4 548.8L999.1 540.6L1030 532.3L1062.4 523.9L1096.2 515.5L1127.4 507.9L1164 499.3L1197.9 491.5L1269.6 475.8L1347.1 459.9L1430.6 443.5L1514.9 427.9L1605.5 411.9"/>
<path stroke="#1010d0" d="M290.6 1109.7L295 1078.2L297.3 1068.5L300 1058.4L305.4 1041.1L312.4 1021L319.2 1003.2L326.1 986.5L332.4 973L338.8 960.3L345.7 947.8L353.2 935.2L361.5 922.4L370.4 909.4L380.1 896.4L390.4 883.1L402.5 868.5L414.8 854.3L427.9 840.1L440.8 826.7L454.3 813.6L467.2 801.6L481.2 789.4L495.3 777.7L509.4 766.6L524.5 755.5L539.4 745.1L554 735.4L570.8 724.9L587.2 715.2L604.7 705.4L623.1 695.6L641 686.5L659.8 677.4L679.6 668.3L700.5 659.1L722.6 649.8L743.6 641.3L768 631.9L791.2 623.3L815.6 614.5L841.2 605.8L868 596.9L893.3 588.9L919.6 580.8L947.1 572.6L975.9 564.4L1005.8 556.1L1037.1 547.7L1066.1 540.1L1100 531.6L1131.4 523.9L1168.2 515.2L1202.2 507.4L1274.3 491.5L1352.1 475.3L1430.6 459.7L1514.9 443.8L1605.5 427.6"/>
<path stroke="#e22ae6" d="M290.6 1109.7L295 1080.7L297.4 1071.4L300.3 1061.9L305.8 1046L313.1 1027L320.3 1010.2L327.7 994.2L334.4 981L341.6 967.9L349.5 954.9L357.8 941.9L367.1 928.6L376.7 915.5L387.1 902.3L398.3 888.8L410.2 875.2L422.7 861.6L435.2 848.8L448.2 836.1L461.4 823.8L474.9 812L488.6 800.6L503.2 789L517.9 778.1L532.4 767.8L547.8 757.4L562.9 747.8L578.9 738.1L595.8 728.4L613.8 718.5L632.8 708.6L651.1 699.5L670.5 690.3L690.9 681.1L710.4 672.6L730.9 664.1L752.3 655.5L774.8 646.8L798.4 638.1L823.1 629.3L846.4 621.3L873.5 612.4L899 604.3L925.6 596.1L953.4 587.9L982.4 579.6L1012.7 571.2L1073.5 555.1L1139.4 538.6L1206.6 522.8L1279 506.7L1357.2 490.1L1436.1 474.3L1520.8 458L1605.5 442.5"/>
<path stroke="#1c8a1c" d="M290.6 1109.7L295 1082.8L297.6 1073.6L300.7 1064.3L306.3 1049.7L313.5 1032.7L321 1016.9L329 1001.4L336.6 987.8L344.9 974L353.8 960.3L363.2 947L373.1 933.6L384 919.9L395.3 906.5L406.8 893.5L419 880.5L431.2 868.2L443.7 856.1L456.6 844.3L469.8 832.9L483.9 821.2L498.2 810L512.5 799.3L527.8 788.5L542.9 778.3L559 768L574.8 758.4L591.5 748.7L609.2 738.9L627.9 729L646 719.8L665.1 710.6L683.4 702.1L704.5 692.8L724.6 684.2L745.8 675.5L768 666.8L791.2 658L813.1 650L838.6 641.1L862.5 633L887.6 624.8L913.7 616.6L940.9 608.3L966.1 600.8L995.7 592.4L1023 584.8L1055.1 576.2L1084.7 568.5L1147.5 552.9L1215.3 537L1283.7 521.8L1357.2 506.3L1436.1 490.5L1520.8 474.3L1605.5 458.8"/>
<path stroke="#000078" d="M290.6 1109.7L295 1084.8L297.7 1075.9L300.9 1066.8L306.4 1053.7L313.1 1039.1L320.6 1024.6L328.6 1010.2L337 996.3L345.9 982.5L355.6 968.5L365.6 955.1L376.3 941.5L387.6 928.1L399.3 914.9L411.3 902.1L423.4 890L435.2 878.7L448.2 866.9L461.4 855.4L474.9 844.3L489.5 832.9L504.2 822L519 811.5L534.7 800.9L550.3 790.8L566.8 780.6L583 771.1L600.2 761.4L618.4 751.6L637.7 741.6L656.3 732.4L676 723.1L694.7 714.5L714.4 705.9L735.1 697.2L756.7 688.5L777.1 680.5L800.8 671.6L823.1 663.5L846.4 655.4L870.8 647.2L896.1 638.9L922.6 630.5L950.3 622.1L975.9 614.6L1005.8 606L1033.6 598.4L1092.3 582.8L1155.7 567L1219.7 552L1288.5 536.6L1362.3 521L1441.5 505L1520.8 489.7L1605.5 474.1"/>
<path stroke="#8418e4" d="M290.6 1109.7L295 1086.4L297.8 1077.8L301.2 1068.8L306.4 1057L312.7 1044.5L320 1031.4L328.2 1017.7L337.7 1003.2L347.5 989L357.8 975.1L368.5 961.5L379.6 948.3L391.4 935.1L403.5 922.3L416 909.9L427.9 898.7L440.8 887L453.5 876.3L467.2 865.2L481.2 854.4L496.3 843.3L511.5 832.6L526.7 822.3L542.9 811.9L559 802L576.2 791.9L594.4 781.6L612.2 771.9L631.1 762.1L649.4 753L668.7 743.7L689 734.3L708.4 725.7L728.8 717L750.1 708.3L772.5 699.4L793.6 691.3L815.6 683.2L838.6 675L862.5 666.8L887.6 658.5L913.7 650.1L937.8 642.6L966.1 634L992.3 626.4L1047.8 610.9L1107.7 595.2L1168.2 580.3L1233.1 565.1L1298 550.7L1367.4 536L1441.5 521L1520.8 505.8L1605.5 490.1"/>
<path stroke="#840c84" d="M290.6 1109.7L295 1087.9L297.8 1079.6L301.2 1071.2L306.2 1060.5L312.1 1049.5L319 1037.8L327.2 1025.2L337.2 1010.7L347.8 996.4L358.8 982.3L370 968.9L381.3 956.1L393.3 943.4L405.7 931L418.4 919.1L430.5 908.3L443.7 897.2L456.6 886.8L470.6 876.1L484.9 865.7L500.2 854.9L515.7 844.5L532.4 833.9L549 823.6L565.5 813.9L583 803.9L601.7 793.7L620 784.1L639.3 774.4L658.1 765.3L677.8 756L698.6 746.7L718.5 738L739.3 729.3L759 721.4L781.8 712.5L803.3 704.5L825.7 696.3L849.1 688.1L896.1 672.4L922.6 663.9L947.1 656.3L999.1 641L1055.1 625.5L1111.6 610.6L1172.4 595.6L1237.6 580.3L1302.8 565.7L1372.5 550.9L1447 535.8L1526.6 520.4L1605.5 505.7"/>
<path stroke="#840c0c" d="M290.6 1109.7L295 1089L297.8 1081.3L301.2 1073.4L306 1063.6L311.6 1053.7L318.4 1042.9L326.3 1031.4L337 1017L348.1 1002.8L359.1 989.6L370.8 976.4L382.6 963.7L394.8 951.6L407.4 939.7L420.2 928.3L432.5 918L445.9 907.3L459.8 896.7L474.1 886.3L488.6 876.2L504.2 865.8L520 855.7L537 845.3L554 835.2L572.1 824.9L590.1 815.1L609.2 805L627.9 795.5L647.7 785.8L666.9 776.7L687.1 767.5L706.4 759L726.7 750.5L747.9 741.8L768 733.9L788.8 725.9L810.6 717.8L833.4 709.7L857.1 701.4L904.8 685.7L931.7 677.2L956.6 669.6L1009.2 654.3L1062.4 639.6L1119.5 624.8L1180.8 609.7L1242.1 595.4L1307.6 580.9L1377.7 566.1L1447 552.1L1526.6 536.7L1605.5 522"/>
<path stroke="#8c8c18" d="M290.6 1109.7L295 1090L297.7 1082.8L301 1075.5L305.7 1066.4L311.2 1057.2L317.7 1047.4L325.5 1036.7L335.9 1023.5L347 1010.1L358.5 997.1L370 984.8L381.8 973L394.3 961.1L406.8 949.9L420.2 938.5L433.2 928.1L446.7 917.9L460.6 907.7L475.8 897.1L491.4 886.7L507.3 876.5L523.3 866.7L540.6 856.5L557.8 846.6L576.2 836.5L594.4 826.8L612.2 817.6L631.1 808.3L651.1 798.7L670.5 789.8L690.9 780.8L710.4 772.4L728.8 764.8L750.1 756.2L770.2 748.4L813.1 732.5L836 724.5L859.8 716.3L907.8 700.7L956.6 685.6L1009.2 670.3L1066.1 654.7L1123.4 639.7L1180.8 625.5L1242.1 611L1307.6 596.2L1377.7 581.1L1447 566.7L1526.6 550.8L1605.5 535.7"/>
<path stroke="#3c6c9c" d="M290.6 1109.7L295 1090.9L297.7 1084.1L300.9 1077.2L305.6 1068.5L311.1 1059.8L317.6 1050.6L325.3 1040.6L335.5 1028.4L346.5 1016L357.8 1004L369.6 992.2L381.8 980.7L394.3 969.5L407.4 958.5L420.9 947.7L434.5 937.2L448.2 927.3L462.3 917.5L477.6 907.2L493.3 897.1L509.4 887.2L526.7 876.9L544.1 867L561.6 857.3L580.3 847.4L598.8 837.9L616.9 829L636 819.8L656.3 810.4L676 801.6L696.7 792.7L716.4 784.4L737.2 776L759 767.5L779.4 759.8L823.1 744L868 728.7L916.6 713.1L966.1 698.1L1019.6 682.8L1073.5 668.1L1131.4 653.2L1189.3 639L1251.2 624.6L1312.5 610.9L1382.8 595.9L1452.5 581.6L1526.6 567L1605.5 552"/>
<path stroke="#349898" d="M290.6 1109.7L295 1091.6L297.7 1085.2L300.8 1078.7L305.6 1070.4L311.1 1062L317.7 1053.1L325.3 1043.8L334.6 1033.2L345.1 1022.1L356.3 1011.1L367.8 1000.3L380.1 989.4L392.8 978.7L406.3 967.9L420.2 957.2L433.9 947.3L448.2 937.4L463.1 927.4L478.5 917.5L494.3 907.7L510.4 898.1L527.8 888.1L545.4 878.4L562.9 869L581.7 859.4L600.2 850.1L620 840.6L639.3 831.6L659.8 822.4L679.6 813.8L700.5 805.1L741.5 788.7L784.1 772.6L828.2 757L873.5 741.9L922.6 726.3L972.6 711.4L1023 697L1077.2 682.4L1135.4 667.5L1193.6 653.3L1255.8 638.8L1317.3 625.1L1382.8 611.1L1452.5 596.7L1526.6 582.1L1605.5 567"/>
<path stroke="#a06a2c" d="M290.6 1109.7L295 1092.2L297.7 1086L300.8 1079.8L305.6 1071.9L311.5 1063.5L318.2 1054.8L325.8 1046L334.4 1036.8L344.1 1027.2L354.7 1017.4L366 1007.6L378.4 997.3L391.4 987.1L405.2 976.7L419.6 966.3L434.5 956L449.7 946L465.5 935.9L482.1 925.8L498.2 916.2L515.7 906.3L533.5 896.5L551.5 886.9L569.5 877.7L588.7 868.1L607.7 859L627.9 849.6L647.7 840.7L668.7 831.6L689 823.1L710.4 814.3L750.1 798.9L793.6 783L836 768.3L881.9 753.2L928.7 738.7L979.1 723.8L1030 709.6L1084.7 695L1139.4 681.2L1197.9 667.1L1255.8 653.8L1317.3 640.2L1382.8 626.3L1452.5 612.1L1526.6 597.5L1605.5 582.6"/>
<path stroke="#28b848" d="M290.6 1109.7L295 1092.6L297.5 1087L300.5 1081.4L305.3 1073.7L311.4 1065.4L318.1 1057.2L325.6 1048.8L333.6 1040.7L342.1 1032.7L351.7 1024.3L362.5 1015.5L374.3 1006.4L387.1 996.9L401.4 986.8L416 976.9L431.2 966.9L447.4 956.6L463.9 946.5L481.2 936.3L498.2 926.6L515.7 917L533.5 907.5L552.7 897.6L572.1 888L591.5 878.7L610.7 869.7L631.1 860.5L651.1 851.8L672.3 842.9L692.8 834.5L714.4 825.9L754.5 810.7L798.4 795L841.2 780.5L887.6 765.6L934.8 751.2L985.7 736.5L1037.1 722.3L1088.5 708.8L1143.5 695L1202.2 680.9L1260.4 667.6L1322.2 654L1388.1 640.1L1458.1 625.8L1532.5 611.2L1605.5 597.3"/>
<path stroke="#b4327e" d="M290.6 1109.7L295 1093L297.3 1088L300.1 1083.1L304.9 1075.7L311.2 1067.4L318 1059.3L325.3 1051.4L332.4 1044.5L340 1037.8L348.6 1030.6L358.2 1023.3L368.9 1015.5L380.9 1007.1L394.8 997.9L410.2 987.9L426.6 977.6L443.7 967.2L460.6 957.3L478.5 947.1L496.3 937.3L514.6 927.6L532.4 918.4L551.5 908.9L570.8 899.6L590.1 890.7L610.7 881.4L631.1 872.5L652.9 863.3L674.1 854.6L696.7 845.6L718.5 837.3L759 822.3L803.3 806.9L846.4 792.6L893.3 777.8L940.9 763.6L992.3 748.9L1044.3 734.8L1096.2 721.3L1151.6 707.5L1206.6 694.5L1265 681.2L1327.2 667.6L1393.3 653.6L1458.1 640.5L1532.5 625.8L1605.5 611.9"/>
<path stroke="#3cb4b8" d="M290.6 1109.7L295 1093.4L297 1089.2L299.3 1085.1L303.8 1078.4L309.9 1070.5L316.6 1062.7L323.5 1055.3L329.9 1049.2L336.3 1043.6L343.6 1037.7L351.7 1031.7L360.8 1025.4L371.2 1018.5L397.8 1001.9L417.2 990.2L435.9 979.3L454.3 968.8L472.3 958.9L490.5 949.2L509.4 939.4L527.8 930.2L546.6 921.2L565.5 912.3L585.8 903.2L606.2 894.3L627.9 885.1L649.4 876.3L672.3 867.2L694.7 858.6L718.5 849.7L761.2 834.4L803.3 820.1L849.1 805.2L896.1 790.6L944 776.5L995.7 761.9L1047.8 747.9L1100 734.5L1151.6 721.7L1206.6 708.7L1265 695.5L1327.2 681.9L1393.3 668L1458.1 654.8L1532.5 640.2L1605.5 626.3"/>
<path stroke="#3e3e84" d="M290.6 1109.7L295 1093.7L298.4 1087.4L302.1 1081.9L307 1075.4L313.7 1067.6L320.1 1060.7L325.8 1055.1L331.6 1049.9L337.4 1045.1L344.1 1040.1L351.7 1034.9L360.1 1029.4L381.3 1016.7L427.2 990.8L446.7 980.1L465.5 970L484.9 960L503.2 950.8L522.2 941.6L540.6 933L560.3 924.1L581.7 914.8L603.2 905.7L624.7 896.9L647.7 887.8L670.5 879.1L718.5 861.4L761.2 846.6L805.7 831.8L851.8 817.1L899 802.8L947.1 788.8L999.1 774.4L1051.5 760.5L1103.9 747.2L1155.7 734.6L1210.9 721.6L1269.6 708.4L1332.1 694.9L1398.5 681.1L1463.6 667.9L1532.5 654.5L1605.5 640.6"/>
<path stroke="#96a63c" d="M290.6 1109.7L295 1094L297.6 1089.2L300.6 1084.7L304.7 1079.5L311.3 1071.8L317.4 1065.1L322.8 1059.8L328.2 1054.8L333.6 1050.3L339.3 1046.1L345.7 1041.6L352.6 1037.2L370.4 1026.9L424.6 997.9L463.9 977.6L483 968.1L501.2 959.3L520 950.5L538.2 942.4L557.8 933.8L578.9 924.9L600.2 916.2L621.5 907.8L644.3 899.1L668.7 890.1L718.5 872.4L763.4 857.2L808.2 842.7L854.4 828.4L901.9 814.3L950.3 800.5L1002.4 786.3L1055.1 772.6L1107.7 759.4L1159.9 746.9L1215.3 734.1L1274.3 721L1332.1 708.7L1398.5 695L1463.6 682L1532.5 668.6L1605.5 654.9"/>
<path stroke="#828282" d="M290.6 1109.7L295 1094.3L297 1090.7L299.6 1086.7L303 1082.4L309.1 1075.4L315.2 1068.8L320.6 1063.5L325.6 1058.8L330.8 1054.5L335.9 1050.6L341.6 1046.6L347.8 1042.8L355 1038.6L363.2 1034.1L378.8 1026.1L428.5 1001.2L465.5 983L502.2 965.8L537 950.4L556.5 942.3L577.5 933.7L620 917.4L666.9 900.3L716.4 883.2L761.2 868.5L805.7 854.5L854.4 839.8L901.9 826L950.3 812.5L1002.4 798.6L1055.1 785L1107.7 772.1L1159.9 759.7L1215.3 747.1L1274.3 734.1L1332.1 721.9L1398.5 708.4L1463.6 695.5L1532.5 682.2L1605.5 668.6"/>
<path stroke="#8c6060" d="M290.6 1109.7L295 1094.6L296.4 1092.1L298.9 1088.4L301.7 1084.7L312.8 1072.7L318.1 1067.3L323.2 1062.5L328.2 1058.3L333.2 1054.4L338.3 1050.9L344.1 1047.2L350.6 1043.5L357.8 1039.7L375.1 1031.2L468.1 987.5L502.2 972.1L534.7 958.4L572.1 943.4L613.8 927.9L658.1 912.2L706.4 896L752.3 881.4L798.4 867.2L846.4 853L896.1 838.9L947.1 825L999.1 811.4L1051.5 798.1L1103.9 785.3L1159.9 772.2L1215.3 759.6L1274.3 746.7L1332.1 734.5L1398.5 720.8L1463.6 707.9L1532.5 694.5L1605.5 680.7"/>
<path stroke="#6e966e" d="M290.6 1109.7L295 1094.8L295.8 1093.5L298 1090L300.6 1086.7L310.1 1076.6L316 1070.7L321.1 1065.9L326.1 1061.5L331.2 1057.6L336.1 1054.2L341.6 1050.8L347.8 1047.3L354.7 1043.8L370 1036.6L403 1022L472.3 990.8L504.2 977.1L534.7 964.8L572.1 950.4L612.2 936L656.3 921.1L702.5 906.2L747.9 892.1L796 877.8L843.8 864L893.3 850.3L944 836.8L995.7 823.5L1047.8 810.5L1103.9 797.1L1159.9 784.2L1215.3 771.9L1274.3 759.2L1332.1 747.1L1398.5 733.7L1463.6 720.9L1532.5 707.7L1605.5 694.1"/>
<path stroke="#3c8cb4" d="M290.6 1109.7L295 1095.1L296.7 1092.2L298.7 1089.5L303.9 1083.8L317.8 1070.1L323.1 1065.5L328.2 1061.4L333.4 1057.7L338.8 1054.3L344.9 1050.9L352 1047.3L366.3 1040.9L404.6 1024.9L474.9 994.6L504.2 982.6L531.2 972L566.8 958.9L604.7 945.8L646 932.2L690.9 918.1L737.2 904.2L786.5 889.9L836 876.1L887.6 862.1L940.9 848.2L992.3 835.2L1044.3 822.6L1100 809.5L1155.7 796.8L1210.9 784.6L1269.6 772.1L1332.1 759.2L1398.5 745.9L1463.6 733.2L1532.5 720.1L1605.5 706.5"/>
<path stroke="#366494" d="M290.6 1109.7L295 1095.3L298.4 1090.4L302.7 1085.7L317.2 1071.8L322.3 1067.4L327.2 1063.6L332.2 1060.1L337.4 1056.8L343.4 1053.6L350 1050.4L363.5 1044.5L405.2 1028L477.6 998.2L504.2 987.7L530.1 978L562.9 966.4L598.8 954.4L639.3 941.6L683.4 928.3L733 913.8L786.5 898.8L838.6 884.6L890.4 871L944 857.4L995.7 844.6L1047.8 832.2L1103.9 819.4L1159.9 807L1215.3 795.1L1274.3 782.9L1332.1 771.3L1398.5 758.4L1463.6 746L1532.5 733.3L1605.5 720.2"/>
<path stroke="#000000" d="M290.6 1109.7L295 1095.6L298.1 1091.1L301.9 1087L316.4 1073.5L321.4 1069.3L326.1 1065.7L331.2 1062.2L336.1 1059.2L341.6 1056.3L347.8 1053.3L361.5 1047.6L405.7 1031L478.5 1002.3L502.2 993.3L525.6 984.8L555.2 974.6L588.7 963.8L624.7 952.8L665.1 940.9L714.4 926.9L768 912.3L823.1 897.6L876.3 884L931.7 870.1L985.7 857.1L1040.7 844.2L1096.2 831.6L1151.6 819.4L1206.6 807.8L1265 795.7L1327.2 783.3L1393.3 770.4L1458.1 758.1L1532.5 744.4L1605.5 731.2"/>
<path stroke="#e61a1a" d="M290.6 1109.7L295 1095.8L298 1091.6L301.7 1087.6L315.7 1075.1L320.6 1071.1L325.3 1067.5L330.3 1064.2L335.1 1061.4L340.4 1058.6L346.5 1055.8L359.8 1050.5L405.7 1034L479.4 1006.2L502.2 997.9L523.3 990.5L551.5 981.2L583 971.4L618.4 960.9L656.3 950.2L706.4 936.5L765.7 920.8L823.1 906L879.1 892L934.8 878.5L989 865.7L1044.3 853.1L1100 840.8L1155.7 828.8L1210.9 817.4L1269.6 805.6L1332.1 793.4L1398.5 780.8L1463.6 768.8L1532.5 756.4L1605.5 743.6"/>
<path stroke="#1010d0" d="M290.6 1109.7L295 1096L297.9 1091.9L301.6 1088.1L314.8 1076.6L319.7 1072.7L324.3 1069.4L329.1 1066.2L334 1063.4L339 1060.9L344.9 1058.2L358.8 1052.9L405.2 1037L478.5 1010.5L519 996.7L545.4 988.3L574.8 979.4L606.2 970.4L642.7 960.3L692.8 947.1L754.5 931.2L815.6 915.9L873.5 901.8L928.7 888.7L985.7 875.5L1044.3 862.4L1100 850.3L1155.7 838.6L1210.9 827.4L1269.6 815.8L1332.1 803.8L1398.5 791.4L1463.6 779.6L1532.5 767.4L1605.5 754.7"/>
<path stroke="#e22ae6" d="M290.6 1109.7L295 1096.2L297.9 1092.2L301.6 1088.5L313.8 1078.2L318.6 1074.5L323.4 1071.1L328.2 1068L333 1065.4L337.9 1062.9L343.6 1060.4L350.9 1057.6L359.8 1054.5L402.5 1040.6L474.1 1015.9L514.6 1002.5L540.6 994.6L568.1 986.5L598.8 978L632.8 969L683.4 956L747.9 939.9L813.1 924L873.5 909.7L931.7 896.2L989 883.4L1044.3 871.3L1100 859.5L1155.7 848L1210.9 837L1269.6 825.6L1332.1 813.8L1398.5 801.7L1463.6 790L1532.5 778L1605.5 765.5"/>
<path stroke="#1c8a1c" d="M290.6 1109.7L295 1096.4L298 1092.5L301.6 1088.9L313.1 1079.4L318.1 1075.8L322.8 1072.6L327.5 1069.7L332.4 1067L337.2 1064.7L342.9 1062.3L350.9 1059.3L360.5 1056.1L402.5 1043L471.5 1020.3L509.4 1008.4L534.7 1000.9L560.3 993.6L588.7 986L621.5 977.5L672.3 964.8L735.1 949.7L803.3 933.6L868 918.6L925.6 905.6L982.4 893.1L1040.7 880.6L1096.2 869L1151.6 857.8L1206.6 846.9L1265 835.7L1327.2 824.2L1393.3 812.1L1458.1 800.6L1532.5 787.7L1605.5 775.3"/>
<path stroke="#000078" d="M290.6 1109.7L295 1096.7L298 1092.9L301.8 1089.2L312.9 1080.4L317.8 1076.9L322.6 1073.8L327.4 1071L332.2 1068.5L337.2 1066.1L342.6 1063.9L351.2 1060.8L361.8 1057.4L402.5 1045.2L467.2 1025L504.2 1013.9L528.9 1006.8L554 1000L581.7 992.8L613.8 984.8L663.3 972.8L728.8 957.5L803.3 940.3L870.8 925.1L928.7 912.3L985.7 900.1L1044.3 887.8L1100 876.5L1155.7 865.5L1210.9 854.9L1269.6 844L1332.1 832.6L1398.5 820.9L1463.6 809.7L1605.5 786"/>
<path stroke="#8418e4" d="M290.6 1109.7L295 1097.1L298.1 1093.3L301.9 1089.6L306.5 1086L312.8 1081.3L317.7 1077.9L322.5 1074.9L327.4 1072.2L332.2 1069.7L337.2 1067.5L342.6 1065.4L352 1062.1L364.2 1058.3L404.6 1046.7L467.2 1028.1L497.2 1019.5L522.2 1012.7L547.8 1006L574.8 999.2L606.2 991.6L658.1 979.5L728.8 963.4L810.6 945.1L879.1 930L937.8 917.4L992.3 906L1047.8 894.7L1103.9 883.6L1159.9 872.8L1215.3 862.5L1274.3 851.8L1332.1 841.7L1398.5 830.3L1463.6 819.4L1605.5 796.4"/>
<path stroke="#840c84" d="M290.6 1109.7L295 1097.4L298.2 1093.7L302.3 1089.9L312.9 1082.1L317.8 1078.8L322.6 1075.9L327.5 1073.3L332.4 1070.9L343.1 1066.6L353.8 1063L367.8 1058.8L458.2 1033.5L488.6 1025.2L514.6 1018.3L540.6 1011.8L598.8 997.9L651.1 986.1L722.6 970.3L810.6 951.1L881.9 935.8L940.9 923.5L995.7 912.3L1051.5 901.2L1103.9 891.1L1159.9 880.6L1215.3 870.5L1274.3 860.1L1332.1 850.2L1398.5 839.1L1463.6 828.5L1605.5 806.2"/>
<path stroke="#840c0c" d="M290.6 1109.7L295 1097.9L298.3 1094.1L302.7 1090.3L313 1082.8L322.8 1076.9L327.7 1074.3L332.8 1071.9L343.6 1067.7L355.6 1063.8L371.6 1059.3L476.7 1031.3L504.2 1024.3L531.2 1017.7L591.5 1003.8L644.3 992.1L714.4 977.1L805.7 957.7L879.1 942.4L937.8 930.4L995.7 918.9L1051.5 908.1L1103.9 898.2L1159.9 888L1215.3 878.1L1274.3 867.9L1332.1 858.2L1398.5 847.3L1463.6 836.9L1605.5 814.9"/>
<path stroke="#8c8c18" d="M290.6 1109.7L295 1098.3L298.5 1094.4L303.3 1090.5L313.5 1083.3L323.4 1077.6L333.4 1072.9L344.6 1068.6L357.8 1064.5L375.1 1059.7L463.1 1037.3L523.3 1022.9L588.7 1008.3L644.3 996.3L716.4 981.2L803.3 963.3L873.5 949L931.7 937.5L989 926.3L1044.3 915.9L1100 905.6L1155.7 895.6L1210.9 886.1L1269.6 876.2L1327.2 866.7L1393.3 856.1L1458.1 846L1605.5 823.7"/>
<path stroke="#3c6c9c" d="M290.6 1109.7L295 1098.8L298.9 1094.7L304.1 1090.5L314.3 1083.7L324.3 1078.2L334.6 1073.5L346.5 1069.2L360.1 1065.1L378.4 1060.2L413.1 1051.6L450.4 1042.6L517.9 1027.1L590.1 1011.5L651.1 998.8L730.9 982.5L808.2 967L873.5 954.1L931.7 942.8L989 932L1044.3 921.8L1100 911.9L1155.7 902.2L1210.9 892.9L1269.6 883.2L1327.2 874.1L1458.1 853.9L1605.5 832.2"/>
<path stroke="#349898" d="M290.6 1109.7L295 1099.2L297 1097.1L299.3 1094.9L305.3 1090.3L315.6 1083.9L325.8 1078.5L336.3 1074L348.9 1069.6L363.2 1065.5L380.9 1060.9L407.4 1054.5L439.4 1047.1L511.5 1031.3L595.8 1013.6L661.6 1000.3L735.1 985.6L803.3 972.3L868 959.8L925.6 949L982.4 938.6L1040.7 928.1L1096.2 918.5L1151.6 909.1L1206.6 900L1265 890.7L1327.2 881L1458.1 861.3L1605.5 840"/>
<path stroke="#a06a2c" d="M290.6 1109.7L295 1099.7L297.3 1097.3L300 1094.9L303.4 1092.4L307.6 1089.5L318 1083.4L328.6 1078.2L339.7 1073.8L353.2 1069.5L367.8 1065.4L385.3 1061L408.5 1055.6L436.6 1049.4L510.4 1034L618.4 1012.2L750.1 986.4L870.8 963.7L928.7 953.2L985.7 943L1040.7 933.5L1096.2 924.1L1151.6 915L1206.6 906.3L1327.2 887.7L1458.1 868.6L1605.5 847.9"/>
<path stroke="#28b848" d="M290.6 1109.7L295 1100.1L295.6 1099.5L298.2 1097L301.4 1094.5L305.4 1091.7L310.5 1088.5L321 1082.8L332 1077.8L344.1 1073.4L358.8 1068.9L373.1 1065.1L389.9 1061.1L410.2 1056.6L434.5 1051.5L490.5 1040.3L649.4 1009.1L765.7 987L876.3 966.9L989 947.3L1100 929L1210.9 911.6L1332.1 893.4L1463.6 874.6L1605.5 855"/>
<path stroke="#b4327e" d="M290.6 1109.7L295 1100.6L296.1 1099.4L299.1 1096.8L302.7 1094.2L307.4 1091.1L312.8 1087.9L323.7 1082.4L335.3 1077.5L348.3 1073.1L364.2 1068.5L377.5 1065.1L392.8 1061.6L430.5 1053.7L677.8 1006.5L777.1 988.2L881.9 969.9L989 952L1100 934.3L1215.3 916.8L1337.1 899.1L1469.2 880.6L1605.5 862.2"/>
<path stroke="#3cb4b8" d="M290.6 1109.7L295 1101L296.6 1099.4L299.8 1096.8L303.7 1094.1L308.9 1090.9L314.6 1087.7L325.8 1082.3L338.1 1077.5L352.3 1072.8L368.9 1068.3L380.9 1065.3L394.3 1062.3L425.9 1056L535.8 1035.9L698.6 1005.4L788.8 989.4L884.7 973.2L989 956.5L1100 939.5L1215.3 922.5L1337.1 905.3L1469.2 887.3L1605.5 869.3"/>
<path stroke="#3e3e84" d="M290.6 1109.7L295 1101.5L296.9 1099.6L300.3 1097L304.5 1094.2L309.9 1091L315.7 1087.9L327.4 1082.6L340.2 1077.7L355 1073L372.3 1068.4L395.3 1063.2L422.1 1057.9L535.8 1037.9L656.3 1015.7L708.4 1006.3L791.2 992.1L881.9 977.3L979.1 962.3L1088.5 946L1210.9 928.6L1337.1 911.2L1469.2 893.5L1605.5 875.9"/>
<path stroke="#96a63c" d="M290.6 1109.7L295 1101.9L297.3 1099.8L300.8 1097.1L305.3 1094.3L310.9 1091.1L316.8 1088.1L329.1 1082.7L342.6 1077.8L358.2 1073L375.5 1068.5L396.3 1063.9L420.2 1059.4L535.8 1039.9L663.3 1016.8L718.5 1007.1L796 994.2L881.9 980.7L979.1 966.2L1084.7 951.1L1206.6 934.4L1337.1 917L1469.2 900L1605.5 883"/>
<path stroke="#828282" d="M290.6 1109.7L295 1102.2L297.6 1100L301.3 1097.4L305.9 1094.5L311.6 1091.4L317.7 1088.4L330.4 1083L344.6 1078L360.8 1073.2L378.4 1068.7L397.3 1064.7L419 1060.7L537 1041.5L672.3 1017.5L730.9 1007.5L808.2 995L893.3 982.2L989 968.4L1092.3 954.3L1215.3 938.1L1342.1 922.1L1469.2 906.4L1605.5 890.2"/>
<path stroke="#8c6060" d="M290.6 1109.7L295 1102.6L297.8 1100.3L301.6 1097.6L306.4 1094.8L312.1 1091.8L318.2 1088.9L331.4 1083.4L346.2 1078.3L362.5 1073.6L380.1 1069.2L397.8 1065.5L417.8 1061.9L441.6 1058L506.3 1048.1L537 1043.1L672.3 1019.7L728.8 1010.2L800.8 998.9L879.1 987.3L969.4 974.7L1069.8 961.4L1197.9 944.9L1332.1 928.1L1469.2 911.4L1605.5 895.4"/>
<path stroke="#6e966e" d="M290.6 1109.7L295 1102.9L298.1 1100.4L302.1 1097.8L306.9 1095L312.6 1092.2L318.9 1089.3L332.6 1083.8L348.1 1078.5L364.6 1073.8L382.2 1069.6L398.8 1066.2L417.2 1062.9L440.8 1059.2L505.3 1049.7L537 1044.7L573.5 1038.7L674.1 1021.4L730.9 1012.1L798.4 1001.8L873.5 991L959.7 979.3L1058.7 966.5L1193.6 949.6L1332.1 932.7L1469.2 916.4L1605.5 900.6"/>
<path stroke="#3c8cb4" d="M290.6 1109.7L295 1103.2L298.2 1100.7L302.3 1098.1L307.2 1095.4L312.9 1092.6L319.2 1089.8L333.4 1084.2L349.2 1079L366 1074.3L383.5 1070.1L399.3 1066.9L417.2 1063.8L440.8 1060.3L505.3 1051L537 1046.2L573.5 1040.3L676 1023.1L730.9 1014.3L796 1004.6L868 994.5L950.3 983.6L1047.8 971.3L1185 954.6L1332.1 937.1L1469.2 921.2L1605.5 905.8"/>
<path stroke="#366494" d="M290.6 1109.7L295 1103.5L298.4 1100.9L302.6 1098.4L307.4 1095.7L313.1 1093L319.4 1090.3L334.2 1084.6L350.6 1079.3L367.4 1074.7L384.9 1070.6L402.5 1067.2L423.4 1063.8L506.3 1052.2L545.4 1046.3L672.3 1025.6L726.7 1017.1L786.5 1008.3L854.4 999L931.7 989L1019.6 978.1L1159.9 961.2L1332.1 940.9L1474.8 924.4L1605.5 909.7"/>
<path stroke="#000000" d="M290.6 1109.7L295 1103.8L298.6 1101.2L302.7 1098.7L307.6 1096.1L313.2 1093.5L319.6 1090.8L335.1 1085L351.7 1079.7L368.5 1075.1L386.2 1071.1L403.5 1067.8L424 1064.5L506.3 1053.4L545.4 1047.7L668.7 1028L718.5 1020.4L770.2 1012.9L828.2 1005L896.1 996.3L972.6 986.9L1084.7 973.5L1352.1 942.1L1486.2 926.6L1605.5 913"/>
<path stroke="#e61a1a" d="M290.6 1109.7L295 1104L298.8 1101.3L303 1098.9L307.8 1096.4L319.8 1091.2L335.9 1085.4L352.9 1080.1L370 1075.5L387.6 1071.6L404.6 1068.4L425.3 1065.2L507.3 1054.3L546.6 1048.8L670.5 1029.5L720.5 1022.1L777.1 1014.1L841.2 1005.7L913.7 996.7L995.7 986.9L1123.4 972.1L1337.1 947.8L1474.8 932.5L1605.5 918.2"/>
<path stroke="#1010d0" d="M290.6 1109.7L295 1104.2L299.1 1101.5L304.3 1098.5L310.8 1095.5L318.6 1092.2L327.7 1088.9L338.3 1085.3L348.3 1082.1L358.5 1079.2L368.5 1076.6L378.8 1074.2L399.8 1070L424 1066.2L506.3 1055.5L538.2 1051.2L574.8 1045.8L679.6 1029.9L739.3 1021.3L800.8 1013.1L870.8 1004.4L999.1 989.3L1197.9 966.8L1419.8 942.2L1605.5 922.1"/>
<path stroke="#e22ae6" d="M290.6 1109.7L295 1104.4L299.3 1101.6L304.9 1098.6L311.4 1095.6L319.3 1092.5L328.8 1089.1L339.7 1085.4L350 1082.3L360.1 1079.5L370.4 1076.8L380.5 1074.5L400.9 1070.5L425.3 1066.8L508.3 1056.3L539.4 1052.1L679.6 1031.6L739.3 1023.3L800.8 1015.3L870.8 1006.7L999.1 991.9L1210.9 968.5L1425.2 945.2L1605.5 926"/>
<path stroke="#1c8a1c" d="M290.6 1109.7L295 1104.7L299.5 1101.7L305.4 1098.7L312.1 1095.8L320.1 1092.6L329.9 1089.2L341.1 1085.6L351.5 1082.5L361.5 1079.8L371.6 1077.2L381.8 1074.9L402.5 1071L426.6 1067.4L510.4 1056.9L540.6 1053L677.8 1033.6L739.3 1025.2L803.3 1017.1L873.5 1008.7L1005.8 993.8L1219.7 970.6L1425.2 948.7L1605.5 930"/>
<path stroke="#000078" d="M290.6 1109.7L295 1104.9L299.8 1101.9L305.9 1098.8L312.6 1095.9L320.8 1092.8L331 1089.4L342.6 1085.7L352.9 1082.7L363.2 1080L383.5 1075.3L404.1 1071.4L428.5 1067.8L540.6 1054L676 1035.4L735.1 1027.6L798.4 1019.8L868 1011.6L1002.4 996.7L1228.6 972.5L1430.6 951.2L1605.5 933.2"/>
<path stroke="#8418e4" d="M290.6 1109.7L295.2 1104.9L300.2 1101.9L306.5 1098.8L313.4 1096L321.9 1092.9L332.6 1089.4L344.6 1085.7L364.9 1080.2L385.3 1075.6L405.7 1071.9L431.2 1068.2L541.7 1054.8L676 1037L737.2 1029.1L803.3 1021.2L879.1 1012.5L1019.6 997.3L1237.6 974.5L1430.6 954.6L1605.5 937.1"/>
<path stroke="#840c84" d="M290.6 1109.7L295.4 1104.9L300.7 1101.9L307.2 1098.9L314.3 1096L323.2 1092.9L335.1 1089.1L347 1085.6L367.4 1080.2L388.1 1075.7L409 1072L434.5 1068.5L542.9 1055.6L677.8 1038.3L739.3 1030.6L813.1 1022L896.1 1012.7L1040.7 997.4L1246.6 976.3L1430.6 958L1605.5 941"/>
<path stroke="#840c0c" d="M290.6 1109.7L295 1105.4L295.7 1105L301.2 1101.9L307.8 1098.9L315.2 1096.1L324.5 1092.9L337 1089L349.2 1085.5L369.6 1080.3L390.4 1075.9L411.3 1072.3L438 1068.7L544.1 1056.3L676 1040L739.3 1032.3L815.6 1023.6L904.8 1013.9L1055.1 998.3L1255.8 978.1L1436.1 960.4L1605.5 944.3"/>
<path stroke="#8c8c18" d="M290.6 1109.7L295 1105.6L296 1105L301.7 1101.9L308.5 1099L316.2 1096.1L326 1092.9L339.3 1088.9L351.5 1085.4L372.3 1080.3L393.3 1076L414.8 1072.5L442.3 1068.8L545.4 1057L679.6 1041L747.9 1033L836 1023.3L937.8 1012.5L1088.5 997.2L1265 980L1436.1 963.7L1605.5 948.2"/>
<path stroke="#3c6c9c" d="M290.6 1109.7L295 1105.7L296.2 1105L302.1 1102L309.1 1099L317.2 1096.1L327.5 1092.8L341.1 1088.8L353.8 1085.4L374.7 1080.3L395.8 1076.2L418.4 1072.6L446.7 1068.9L546.6 1057.7L677.8 1042.6L747.9 1034.7L846.4 1024.1L956.6 1012.7L1107.7 997.7L1274.3 981.6L1441.5 966.1L1605.5 951.3"/>
<path stroke="#349898" d="M290.6 1109.7L295 1105.9L296.5 1105L302.6 1102L309.8 1099L318.5 1096.1L329.5 1092.7L343.6 1088.6L356.6 1085.2L377.5 1080.3L398.8 1076.3L422.1 1072.7L452 1068.9L752.3 1035.9L862.5 1024.3L982.4 1012.2L1131.4 997.7L1288.5 982.9L1447 968.4L1605.5 954.4"/>
<path stroke="#a06a2c" d="M290.6 1109.7L295 1106L296.8 1105L303.1 1102L310.4 1099.1L319.4 1096.1L331.2 1092.6L345.4 1088.6L358.5 1085.2L379.6 1080.5L401.4 1076.4L425.9 1072.8L456.6 1069L642.7 1049L761.2 1036.5L887.6 1023.6L1019.6 1010.6L1159.9 997.2L1302.8 984.1L1452.5 970.7L1605.5 957.5"/>
<path stroke="#28b848" d="M290.6 1109.7L295 1106.2L297.1 1105L303.6 1102L311.2 1099.1L320.8 1096L333.6 1092.3L347.8 1088.4L361.1 1085.1L382.6 1080.4L404.6 1076.5L430.5 1072.8L462.3 1068.9L497.2 1065.1L565.5 1058L781.8 1036L922.6 1022L1055.1 1009.3L1185 997.2L1317.3 985.3L1458.1 973L1605.5 960.6"/>
<path stroke="#b4327e" d="M290.6 1109.7L295 1106.3L297.5 1105L304.2 1102L311.9 1099.2L322.2 1096L336.1 1092L350.3 1088.3L363.5 1085.1L385.8 1080.4L408.5 1076.5L435.2 1072.7L468.1 1068.8L503.2 1065.1L559 1059.5L843.8 1031.5L975.9 1018.8L1092.3 1007.9L1210.9 997.1L1337.1 986L1469.2 974.9L1605.5 963.7"/>
<path stroke="#3cb4b8" d="M290.6 1109.7L295 1106.4L297.9 1105L304.7 1102L312.6 1099.2L323.4 1095.9L338.3 1091.8L352.3 1088.2L366 1085L388.5 1080.4L411.9 1076.5L439.4 1072.7L474.1 1068.7L513.6 1064.6L570.8 1059.1L726.7 1044.4L969.4 1021.3L1123.4 1007.1L1233.1 997.4L1347.1 987.7L1474.8 977.2L1605.5 966.8"/>
<path stroke="#3e3e84" d="M290.6 1109.7L295 1106.6L298.2 1104.9L305.3 1102L313.2 1099.3L324.5 1096L340.2 1091.7L354.4 1088.2L368.2 1085.1L391.4 1080.5L415.4 1076.6L444.5 1072.7L479.4 1068.7L512.5 1065.3L552.7 1061.5L724.6 1046L992.3 1021L1143.5 1007.3L1246.6 998.5L1357.2 989.3L1474.8 980L1605.5 969.9"/>
<path stroke="#96a63c" d="M290.6 1109.7L295 1106.7L298.6 1104.9L305.7 1102.1L313.8 1099.4L325.3 1096.1L341.6 1091.8L356 1088.3L370 1085.2L393.8 1080.6L418.4 1076.7L448.2 1072.7L483.9 1068.8L545.4 1062.9L735.1 1046.4L1012.7 1020.9L1159.9 1007.9L1260.4 999.6L1367.4 991L1480.5 982.3L1605.5 973"/>
</g>
<g fill="none" stroke-width="6.3" stroke-linejoin="round" stroke-linecap="round">
<path stroke="#000000" d="M327.6 2366.3L357.7 2359.6L412.3 2359.4L461.3 2358.8L508 2357.6L555.5 2355.8L603.6 2353.4L648.1 2350.6L690 2347.3L731.4 2343.4L771 2339L811.7 2333.8L855.4 2327.5L902.1 2320.3L943.5 2313.3L983.9 2305.9L1022.3 2298.3L1058.1 2290.5L1093.5 2282.1L1128.6 2273.2L1164.7 2263.2L1200.6 2252.6L1238 2240.9L1277 2228L1314.4 2215L1353.4 2200.7L1392.2 2185.8L1430.8 2170.4L1469.1 2154.5L1508.8 2137.3L1548 2119.7L1586.5 2101.7L1624 2083.6L1662.6 2064.3"/>
<path stroke="#e61a1a" d="M327.6 2366.3L357.7 2359.6L412.7 2359.4L462.5 2358.7L508.2 2357.6L550.9 2355.8L588.8 2353.7L625.3 2351.1L664.1 2347.6L716.3 2342.4L762.2 2337.4L805.3 2332.1L844.9 2326.8L881.8 2321.2L918.9 2314.9L955 2308.2L991.2 2300.9L1027.4 2292.8L1063.7 2284.1L1101.4 2274.2L1137.9 2264L1176.1 2252.6L1216.1 2240L1254.9 2227L1293.8 2213.4L1332.8 2199L1371.7 2184.1L1410.4 2168.5L1448.7 2152.5L1488.4 2135.3L1527.5 2117.6L1565.9 2099.6L1603.3 2081.4L1641.8 2061.9"/>
<path stroke="#1010d0" d="M327.6 2366.3L357.6 2359.6L413.4 2359.4L463.4 2358.7L508.4 2357.4L548.7 2355.6L580.2 2353.6L610.6 2351.1L639.3 2348.2L718.1 2340L765.2 2334.7L804.9 2329.9L839.8 2325.2L873 2320.2L906.7 2314.4L939.9 2308.1L972.7 2301.2L1006.6 2293.5L1044.1 2284.1L1080.8 2274.3L1117.9 2263.7L1156.7 2251.8L1195.9 2239.1L1234.1 2226.1L1274.1 2211.8L1312.5 2197.3L1350.9 2182.2L1388.9 2166.5L1426.5 2150.4L1465.6 2133L1504 2115.1L1541.6 2096.9L1578.2 2078.5L1616 2058.9"/>
<path stroke="#e22ae6" d="M327.6 2366.3L357.5 2359.6L420.6 2359.3L473.8 2358.3L519.5 2356.6L540.5 2355.5L560.6 2354.2L581 2352.5L602.4 2350.4L734.7 2336.1L775 2331.5L810 2327.1L840 2322.8L869 2318.2L899.1 2312.8L928.5 2307L958.4 2300.5L989.1 2293.2L1025.7 2283.8L1063 2273.6L1100.8 2262.5L1137.7 2251L1176.4 2238.3L1213.8 2225.2L1251.4 2211.4L1289 2196.9L1326.5 2181.7L1365.5 2165.3L1402.3 2149L1440.6 2131.5L1478.2 2113.5L1515.1 2095.2L1553.2 2075.6L1590.3 2055.8"/>
<path stroke="#1c8a1c" d="M327.6 2366.3L357.3 2359.6L417.8 2359.2L467.4 2358.2L489.5 2357.5L509.8 2356.6L529.3 2355.5L548 2354.1L565.6 2352.6L583.6 2350.7L641 2344.2L741.6 2333.2L777.1 2329L807 2325L833.6 2321L860 2316.6L887.4 2311.5L914 2306L940.9 2299.8L969.7 2292.8L1006.7 2283.1L1044.7 2272.5L1082.3 2261.3L1119 2249.7L1154.5 2237.8L1189.9 2225.3L1225.2 2212.1L1261.9 2197.7L1300.2 2181.9L1338.4 2165.5L1376.4 2148.4L1416 2130L1453.2 2111.9L1491.9 2092.5L1529.8 2072.8L1566.8 2052.8"/>
<path stroke="#000078" d="M327.6 2366.3L357.2 2359.5L414.9 2359.2L460 2358.2L498.4 2356.6L516 2355.5L533.3 2354.2L563.7 2351.1L626.1 2343.8L740.4 2331.1L770.9 2327.3L797.5 2323.6L822.6 2319.7L846.4 2315.5L871.1 2310.7L895.9 2305.3L921.1 2299.4L948 2292.6L986.5 2282.2L1025.4 2271.2L1061.5 2260.3L1096.6 2249.1L1130.3 2237.7L1162.2 2226.3L1195.1 2213.8L1229.3 2200.3L1266.4 2184.8L1305.1 2167.8L1345.8 2149.3L1386.6 2130.1L1427.5 2110.2L1466.1 2090.7L1506.3 2069.9L1543.4 2049.8"/>
<path stroke="#8418e4" d="M327.6 2366.3L357 2359.5L410.6 2359.1L451.5 2358.2L485.6 2356.7L501.4 2355.6L517.4 2354.3L543.2 2351.6L610.4 2343.3L698.1 2333.4L735.8 2329L763.1 2325.4L787.2 2321.9L809.9 2318.2L832.2 2314L854.4 2309.5L877.6 2304.3L901.1 2298.6L927.3 2291.7L967.4 2280.6L1007.1 2269L1042.9 2257.9L1077.9 2246.5L1111.4 2235L1143.1 2223.3L1175.8 2210.6L1208 2197.5L1244.7 2181.8L1281.3 2165.4L1321.2 2146.7L1361.4 2127.2L1401.5 2107.1L1439.4 2087.5L1476.7 2067.5L1515.3 2046.1"/>
<path stroke="#840c84" d="M327.6 2366.3L356.8 2359.5L406.4 2359.1L443.3 2358.2L474.1 2356.7L487.7 2355.7L501.3 2354.5L528.3 2351.4L596.4 2342.3L689.2 2331.6L730 2326.5L755 2323L777.6 2319.4L799.8 2315.5L820.8 2311.4L842.6 2306.6L864.5 2301.4L887.7 2295.4L912.8 2288.6L954 2276.7L992.7 2265.1L1028.6 2253.6L1062.2 2242.4L1092.8 2231.5L1124.3 2219.6L1156.8 2206.6L1188.8 2193.1L1223.6 2177.8L1259.8 2161.1L1297.5 2142.9L1337 2123.2L1374.6 2103.8L1411.7 2083.9L1448.2 2063.7L1485.9 2042.1"/>
<path stroke="#840c0c" d="M327.6 2366.3L356.6 2359.5L402.4 2359L435 2358.2L462.1 2356.9L473.9 2356L485.5 2354.8L510.4 2351.7L556.1 2344.8L578.9 2341.6L679.4 2329.4L721 2323.9L743.5 2320.5L764.6 2316.9L785.4 2313L806 2308.7L826.5 2303.9L848.2 2298.5L870.3 2292.6L896.3 2285.2L936.6 2273.3L972.9 2262.1L1006.2 2251.3L1038.3 2240.3L1067.2 2229.8L1096.8 2218.4L1125.8 2206.6L1155.7 2193.9L1189.6 2178.6L1226.7 2161.3L1263.8 2143.2L1304.6 2122.7L1345.8 2101.4L1385.1 2080.4L1424 2058.9L1460.2 2038.4"/>
<path stroke="#8c8c18" d="M327.6 2366.3L356.4 2359.4L398.6 2358.9L427.6 2358.2L451.3 2356.9L471.2 2355L493.1 2352L537.3 2344.5L560.7 2340.9L588 2337.3L667.9 2327.1L709.8 2321.2L730.7 2317.7L751.2 2313.9L771.5 2309.8L791.7 2305.2L811.9 2300.2L832.3 2294.8L854.3 2288.6L881.5 2280.5L919.9 2268.8L955.2 2257.5L987.2 2246.8L1018 2236L1046.8 2225.2L1075 2214.1L1103.9 2202L1133.7 2189L1167.6 2173.5L1203 2156.6L1240 2138.2L1280.8 2117.3L1320.1 2096.7L1359.4 2075.5L1396.2 2055L1432.2 2034.3"/>
<path stroke="#3c6c9c" d="M327.6 2366.3L356.2 2359.4L393.9 2358.8L418.8 2358.1L439.2 2356.8L456 2355.1L474.8 2352.2L517.9 2344.3L542.3 2340.2L570.3 2336.2L651.2 2325.4L674.3 2322L694.8 2318.7L715 2315.1L735 2311.1L754.8 2306.7L774.5 2301.9L794.4 2296.7L814.7 2291L837.6 2284.2L866 2275.5L902.3 2263.9L936.3 2252.7L968.4 2241.5L997.7 2230.8L1025.1 2220.3L1053.3 2208.9L1082.2 2196.5L1110.6 2183.8L1143.1 2168.7L1178.6 2151.6L1215.8 2132.9L1255 2112.7L1294.4 2091.8L1331.8 2071.5L1368.6 2050.9L1404.7 2030.1"/>
<path stroke="#349898" d="M327.6 2366.3L356 2359.4L389.6 2358.6L410.1 2357.9L426.8 2356.7L440.7 2355.2L454.4 2352.8L497.8 2344.2L523.3 2339.6L551.6 2335.3L634 2323.4L658.2 2319.6L678.9 2316L698.4 2312.2L717.8 2308L737.1 2303.4L756.5 2298.4L776.2 2292.9L797.2 2286.7L821.2 2279.2L850.9 2269.7L885.1 2258.3L918 2247L948.7 2235.9L977.9 2224.8L1006.7 2213.3L1035 2201.4L1064.2 2188.6L1092.9 2175.5L1125.8 2159.8L1158.5 2143.7L1194.3 2125.5L1231.9 2105.8L1269.4 2085.5L1304.7 2066L1339.2 2046.3L1375.1 2025.4"/>
<path stroke="#a06a2c" d="M327.6 2366.3L355.7 2359.4L384.4 2358.4L400.7 2357.7L414.1 2356.6L425.6 2355.1L436.1 2353.2L478.3 2344L503.8 2339.1L531.3 2334.5L615.7 2321.4L640.6 2317.1L662.2 2313L681 2309L699.8 2304.6L718.7 2299.8L738.6 2294.2L758.1 2288.5L780.1 2281.6L806.2 2273.1L835.1 2263.4L868.4 2251.9L900 2240.4L929.4 2229.4L958.7 2217.8L987.6 2205.9L1016.2 2193.5L1045.7 2180.2L1076.3 2165.9L1108.1 2150.4L1141.3 2133.8L1175.8 2115.8L1210.1 2097.5L1243.9 2078.9L1277.1 2060.2L1311.5 2040.3L1345 2020.4"/>
<path stroke="#28b848" d="M327.6 2366.3L355.4 2359.3L379.1 2358.2L391.9 2357.4L402.3 2356.4L411.2 2355.1L419.5 2353.4L439.5 2348.4L454.5 2344.8L483 2338.8L511 2333.8L570.9 2323.8L597.1 2319.2L622.6 2314.4L645 2309.7L663.1 2305.5L681.4 2300.8L699.8 2295.8L719.4 2290L739.6 2283.7L761.5 2276.5L788.6 2267.2L816.6 2257.4L849.8 2245.3L881.4 2233.4L912.2 2221.3L941.6 2209.2L970.9 2196.7L1001.3 2183.1L1031.4 2169.2L1061 2155L1091.8 2139.7L1123.7 2123.3L1155.1 2106.6L1185.7 2089.8L1217.5 2071.9L1248.3 2054L1280.2 2035L1313.2 2014.8"/>
<path stroke="#b4327e" d="M327.6 2366.3L355 2359.3L383.3 2357.2L391.1 2356.2L398 2355.1L405.5 2353.3L421.6 2348.5L434.4 2345L448.3 2341.6L463.3 2338.3L492 2332.6L553.3 2321.5L579.8 2316.5L606 2311.1L629.2 2305.7L646.7 2301.2L664.5 2296.3L682.6 2290.9L702 2284.8L722.9 2277.8L745.8 2269.9L773.2 2260.1L800.2 2250.1L832.4 2237.9L862.9 2225.9L892.5 2213.8L922 2201.2L951.5 2188.2L982.2 2174.2L1011 2160.5L1041 2145.8L1070.4 2130.9L1100.9 2115L1130.7 2098.9L1159.6 2082.8L1189.5 2065.7L1220.3 2047.6L1252.2 2028.4L1283.1 2009.3"/>
<path stroke="#3cb4b8" d="M327.6 2366.3L354.4 2359.2L375.9 2356.8L381.8 2355.9L387.2 2354.7L393.3 2352.9L408.5 2347.6L421.3 2343.6L436.4 2339.4L453.3 2335.3L478.5 2329.9L538.5 2318.2L565.8 2312.5L591.9 2306.6L617.7 2299.9L635.8 2294.8L653.4 2289.5L671.4 2283.7L690.8 2277L714 2268.8L740.5 2259.1L766.6 2249.2L792.1 2239.3L822.7 2227.1L852.5 2214.7L882.6 2201.8L911.3 2189.1L939.8 2176L969.5 2161.9L997.3 2148.3L1026 2133.7L1052.4 2119.9L1079.6 2105.3L1107.6 2089.8L1134.6 2074.3L1162.4 2058L1191 2040.7L1220.5 2022.5L1251.1 2003.2"/>
<path stroke="#3e3e84" d="M327.6 2366.3L351.5 2358.8L367.3 2356.1L372.1 2355.1L376.3 2353.9L381.8 2352.1L396 2346.2L407.3 2342.1L420.8 2337.8L436 2333.6L448.6 2330.4L463.3 2327L526.7 2313.3L554.9 2306.9L583.6 2299.6L611.7 2291.5L629.1 2286.1L647 2280.1L666.3 2273.4L686.5 2266.1L710.7 2257.1L735.2 2247.6L758.9 2238.2L782.7 2228.5L811.3 2216.4L838.9 2204.5L867.9 2191.5L895.4 2178.7L922.6 2165.8L950.9 2151.8L977.2 2138.5L1004.4 2124.4L1030.9 2110.2L1056.4 2096.1L1082.7 2081.2L1107.9 2066.5L1135.7 2049.9L1162.5 2033.6L1192.1 2015.2L1220.6 1997"/>
<path stroke="#96a63c" d="M327.6 2366.3L346.2 2357.8L358 2354.8L364.7 2352.7L370.6 2350.4L384.6 2344.1L393.1 2340.6L405.2 2336.2L418.6 2331.9L432 2328L448 2323.8L516.4 2307.1L546.8 2299.2L564.4 2294.2L581.8 2289.1L599 2283.7L616.8 2277.9L635.3 2271.6L653.5 2265.1L692.2 2250.5L730.9 2235.1L771.5 2217.8L798 2206.2L824.4 2194.1L850.8 2181.8L877 2169.2L902.8 2156.4L929.6 2142.8L956 2129.1L981.6 2115.4L1006.4 2101.8L1031.9 2087.5L1056.5 2073.3L1081.8 2058.5L1107.8 2042.8L1134.7 2026.3L1162.4 2009L1191.1 1990.8"/>
<path stroke="#828282" d="M327.6 2366.3L341 2356.3L354.2 2351.3L376.2 2340.7L385 2337L394.7 2333.2L412.3 2327.1L432.9 2320.6L512.5 2297.9L549.1 2287L582.3 2276.5L615 2265.5L634.5 2258.5L652.9 2251.7L671.9 2244.3L690.5 2236.9L709.7 2228.9L729.6 2220.4L771.7 2201.5L796.5 2189.9L821.2 2178.1L845.5 2166.2L870.9 2153.4L894.2 2141.4L918.4 2128.6L941.7 2115.9L965.9 2102.5L989 2089.3L1011.1 2076.5L1033.8 2062.9L1057 2048.8L1105.6 2018.4L1159.1 1983.6"/>
<path stroke="#8c6060" d="M327.6 2366.3L337.3 2354.5L363.2 2339.9L371.9 2335.7L382.2 2331.3L403.2 2323.2L431.1 2313.4L464.8 2302.2L533.6 2280.1L563.6 2270.3L596.5 2259L624.9 2248.6L657.9 2235.7L692.7 2221L729.7 2204.3L769.3 2185.4L814.6 2162.8L859.3 2139.5L881.3 2127.7L904 2115.1L946.8 2090.7L988.6 2065.9L1032.5 2038.7L1079.1 2008.9L1128.4 1976.4"/>
<path stroke="#6e966e" d="M327.6 2366.3L334.3 2352L335.5 2350.9L344.6 2343.8L352 2338.6L359.5 2334.4L369.1 2329.8L382.7 2324L410.8 2312.7L433.2 2303.9L453.5 2296.1L483.9 2285.3L544.4 2264.7L571.4 2255.2L598.3 2245.3L622.7 2235.8L638.7 2229.1L655.2 2222.1L688.4 2207L724.7 2189.5L765 2169.2L804.2 2148.5L844.8 2126.3L885 2103.5L924.4 2080.2L964.3 2055.8L1006.4 2029.2L1051 2000.3L1098.4 1968.9"/>
<path stroke="#3c8cb4" d="M327.6 2366.3L331.9 2348.5L332.6 2347.4L336.6 2342.6L341.8 2337.6L347.1 2333.6L353.1 2330L364.8 2324.3L388.3 2313.9L420.9 2299.2L436.7 2292.3L451.4 2286.2L464.7 2281L480.2 2275.2L536.4 2255.1L559 2246.8L581 2238.2L602 2229.6L624.6 2219.8L648.1 2208.9L672.5 2197.1L699.2 2183.6L742.2 2161L786.3 2136.8L829.7 2112.1L874.8 2085.4L918.3 2058.9L964.6 2029.8L1014.2 1997.7L1069.4 1961.2"/>
<path stroke="#366494" d="M327.6 2366.3L330.4 2344.3L331.5 2341.8L333 2339.2L334.7 2336.7L338.6 2332.1L343.1 2328.3L348.9 2324.5L356 2320.7L379.5 2309.3L417.1 2290.3L429.3 2284.4L441.2 2279.1L454.1 2273.6L469.1 2267.6L524.2 2246.7L546.4 2238L567.9 2229L589.4 2219.6L610.7 2209.6L632.8 2198.8L656.9 2186.4L683.5 2172.3L725 2149.5L767.7 2125.2L809.5 2100.6L851.4 2075.1L892.9 2049.1L937.1 2020.6L984.3 1989.4L1039.1 1952.6"/>
<path stroke="#000000" d="M327.6 2366.3L329.6 2340.4L331.4 2335.3L332.7 2332.5L334.2 2329.9L335.9 2327.5L337.8 2325.3L339.9 2323.2L342.3 2321.3L348.5 2317L400.8 2287.3L412.6 2280.9L423.5 2275.3L435.5 2269.7L449.6 2263.5L524.9 2232.4L544.6 2223.9L563.3 2215.3L587.5 2203.6L611.9 2191.1L638.7 2176.7L669.4 2159.7L706 2138.7L744.2 2116.2L784 2092L823.8 2067.1L864.7 2040.9L906.8 2013.4L953.7 1982.1L1010.3 1944"/>
<path stroke="#e61a1a" d="M327.6 2366.3L329.2 2337.3L330.1 2333.3L331.2 2329.7L332.6 2326.3L334.2 2323.2L336.1 2320.3L338.2 2317.7L340.8 2315L343.9 2312.3L351.4 2306.8L368.3 2295.6L381.6 2286.9L393.3 2279.6L404.6 2273.1L415.6 2267.1L428.1 2260.8L443.6 2253.6L496.2 2230.2L515.1 2221.6L531.6 2213.8L548.9 2205.2L573.5 2192.5L598.5 2179L626.1 2163.4L655.7 2146.2L689.7 2125.8L723.7 2104.8L758.7 2082.7L796.2 2058.4L834.8 2033L876.1 2005.3L922.2 1974L980 1934.3"/>
<path stroke="#1010d0" d="M327.6 2366.3L328.9 2334.4L329.9 2328.9L331.2 2323.8L332.8 2319.2L334.7 2315.2L336.7 2312L339.1 2308.8L342.1 2305.5L345.9 2302L351.2 2297.4L359.1 2291.1L374.1 2279.9L384.3 2273L394.3 2266.6L404.7 2260.4L415.9 2254.3L437.6 2243.2L483.1 2221.2L502.6 2211.5L523.5 2200.7L545.7 2188.7L566.6 2177L587.7 2164.8L611 2151L635.7 2135.9L665.5 2117.3L696.1 2097.8L728.7 2076.4L763.7 2053.2L799.6 2028.9L839.7 2001.5L951 1924.3"/>
<path stroke="#e22ae6" d="M327.6 2366.3L328.8 2330.8L329.8 2324.2L331.1 2318L332.7 2312.7L334.5 2308L336.7 2303.9L339.4 2299.8L342.8 2295.7L347 2291.1L352.8 2285.4L359.2 2279.6L366 2273.9L373 2268.4L380.7 2262.8L388.8 2257.2L397 2252L406.2 2246.4L429.5 2233.4L489.4 2201.4L522.4 2182.8L544.9 2169.7L568 2155.7L591.6 2141.1L615.8 2125.8L639.1 2110.7L663.7 2094.4L718.9 2057L775.1 2018.2L924 1914.5"/>
<path stroke="#1c8a1c" d="M327.6 2366.3L328.6 2328.9L328.8 2326.5L329.8 2318.9L331 2311.9L332.5 2306L334.3 2300.8L336.7 2295.6L339.5 2290.7L343 2285.5L347.3 2280.2L352.3 2274.6L357.8 2268.9L363.9 2263.3L370.6 2257.7L378.1 2251.8L386.1 2245.9L394.9 2239.9L404.9 2233.4L427.1 2219.8L488.5 2183.5L526.1 2160.5L549.2 2146L572.2 2131.2L595.7 2115.8L619.6 2099.7L667 2067.2L720 2029.9L770.1 1993.9L895.2 1903.2"/>
<path stroke="#000078" d="M327.6 2366.3L328.4 2326L328.8 2321.6L329.8 2313.1L331 2305.5L332.5 2298.9L334.4 2292.8L336.8 2286.8L339.6 2281L343 2275.2L347 2269.5L351.7 2263.7L356.9 2257.9L362.9 2251.9L369.5 2245.9L378.2 2238.6L388 2230.9L399.1 2222.8L412.4 2213.5L435.1 2198.3L504.2 2153.3L543.2 2127.5L583.7 2100L626.9 2069.8L666.2 2041.7L709.3 2010.3L868.9 1892"/>
<path stroke="#8418e4" d="M327.6 2366.3L328.3 2323.1L328.8 2316L329.8 2306.7L331.1 2298.3L332.8 2290.5L334.8 2283.4L337.2 2276.6L340 2270.3L343.2 2264.3L347 2258.3L351.4 2252.3L356.7 2246.1L362.7 2239.6L369.7 2232.8L380.2 2223.2L392.2 2213.1L405.6 2202.4L421.2 2190.5L437.7 2178.4L457 2164.5L528.7 2114.3L560.1 2092.1L592.6 2068.7L625.9 2044.3L662.2 2017.2L698.9 1989.5L842 1879.8"/>
<path stroke="#840c84" d="M327.6 2366.3L328.2 2320.3L329 2309.5L330.1 2299L331.6 2289.1L333.4 2279.9L335.7 2271.7L338.1 2264.5L340.9 2257.9L344.3 2251.5L348.3 2245.1L353 2238.5L358.6 2231.5L365.3 2224L373.3 2215.7L387.1 2202.1L402.8 2187.8L419.8 2173.3L439 2157.9L469.6 2134.4L562.7 2064.9L618.3 2022.5L670.7 1981.8L770.5 1903L816.4 1867.2"/>
<path stroke="#840c0c" d="M327.6 2366.3L328.2 2317.6L329.1 2303.1L330.3 2290.9L332 2279.2L334 2268.9L336.4 2259.7L338.9 2252.2L341.9 2245.1L345.5 2238L349.8 2230.8L355.1 2223.2L361.5 2214.7L369.4 2205.1L378 2195.3L392.3 2180.2L408.2 2164.7L424.9 2149.5L444.5 2132.8L471 2111.3L556 2044.1L612.6 1998.8L658.5 1961.4L749.1 1886.8L790.4 1853.4"/>
<path stroke="#8c8c18" d="M327.6 2366.3L328.1 2315.2L329.1 2297.1L330.5 2283.2L332.2 2270.1L334.3 2258.8L336.7 2248.9L339.3 2240.6L342.6 2232.4L346.5 2224.2L351.3 2215.7L357.4 2206.1L364.6 2195.7L372.5 2185.2L381 2174.8L388.5 2166.2L396.5 2157.4L405 2148.5L414 2139.6L423.4 2130.6L433.7 2121.1L459.2 2098.7L569.6 2005.3L663.6 1926.6L719.4 1880.7L744.4 1860.6L769 1841.1"/>
<path stroke="#3c6c9c" d="M327.6 2366.3L328.1 2312.9L329.1 2292.1L330.4 2276.9L332.1 2262.8L334.1 2250.6L336.5 2239.8L339.2 2230L342.5 2220.7L346.5 2211.3L351.3 2201.5L357.1 2191.1L363.8 2180.4L371.1 2169.7L379.2 2158.9L387.1 2148.9L395.4 2139.1L404.4 2129.2L414.4 2118.6L425 2107.9L437.2 2096L467.2 2068.1L497.4 2040.8L534.4 2007.9L645.7 1910L698.1 1864.6L722.2 1844.1L744.3 1825.8"/>
<path stroke="#349898" d="M327.6 2366.3L328 2310.8L329.2 2286.5L330.4 2270.2L332 2255.3L334 2242.1L336.3 2230.1L339.1 2218.8L342.5 2207.9L346.5 2197L351.2 2186.3L356.6 2175.4L362.7 2164.4L369.6 2153.3L377.1 2142.2L385.6 2130.8L394.9 2119L405.2 2106.9L416.9 2093.9L429.5 2080.5L444.3 2065.5L461.4 2048.4L481.4 2029.1L508.9 2003L540.2 1973.8L577.9 1939L620.8 1900L649.3 1874.3L675.6 1851L699 1830.6L722.2 1810.8"/>
<path stroke="#a06a2c" d="M327.6 2366.3L328 2309L328.5 2294.3L329.2 2280L330.4 2263.1L332 2247.4L334 2232.9L336.3 2219.4L339.2 2206.5L342.4 2194.1L346.2 2182.1L350.6 2170.5L355.5 2159.2L361.2 2147.7L367.6 2136.3L374.6 2125.1L382.4 2113.5L391.1 2101.8L401 2089.2L411.8 2076.3L424 2062.5L437.7 2047.6L453.6 2030.9L472.1 2011.8L497.9 1986L527.1 1957.2L562.4 1923L604.9 1882.2L631 1857.3L655 1835L677.5 1814.4L699.9 1794.4"/>
<path stroke="#28b848" d="M327.6 2366.3L328 2307.5L328.5 2289.6L329.3 2272.4L330.5 2255.1L332.1 2238.5L334.2 2222.1L336.6 2206.4L339.4 2191.6L342.6 2177.8L346.1 2165.1L350 2153.3L354.6 2141.4L359.8 2129.9L365.7 2118.2L372.2 2106.8L380.1 2094.2L388.9 2081.4L399.1 2067.7L410.3 2053.6L423 2038.3L437.9 2021.2L455.4 2001.7L474.3 1981.2L498 1956.2L524.7 1928.5L554.7 1898.1L587 1865.8L612.4 1840.9L635.6 1818.6L657.5 1798L679.4 1778"/>
<path stroke="#b4327e" d="M327.6 2366.3L328 2306L328.6 2283.9L329.4 2264.3L330.6 2246.7L332.2 2229.2L334.5 2208.9L337.1 2190.6L339.7 2174.7L342.6 2160.2L345.7 2147.6L349.2 2135.6L353.4 2123.7L358 2112.3L363.5 2100.5L369.7 2088.6L377.5 2075L386.4 2061L396.2 2046.6L407.6 2031.1L420 2015.1L434.6 1997L450.5 1978.2L468.3 1957.7L489.8 1933.7L514 1907.5L541.1 1878.8L570.1 1848.6L594.6 1823.7L617.1 1801.3L638.4 1780.7L659.6 1760.7"/>
<path stroke="#3cb4b8" d="M327.6 2366.3L328 2304.6L328.6 2278.3L329.5 2256.8L330.6 2238.9L332.3 2219.3L335 2193.2L337.6 2171.9L340 2155.9L342.5 2141.8L345.2 2129.4L348.4 2117.3L352.1 2105.6L356.6 2093.6L361.7 2081.7L367.4 2069.8L375.5 2054.5L384.4 2039.1L394.4 2023.2L405 2007.4L416.6 1991.1L429.7 1973.7L443.8 1955.7L459.6 1936.5L479.6 1913L501.2 1888.5L526.2 1860.8L554.1 1830.6L577.7 1805.7L599.4 1783.3L620.1 1762.6L640.7 1742.7"/>
<path stroke="#3e3e84" d="M327.6 2366.3L328 2302.7L328.6 2272.9L329.4 2250.5L330.5 2232L332.4 2209.1L335.4 2176.1L337.9 2152.7L340 2136.6L342.2 2123.1L344.7 2110.7L347.6 2098.9L351.1 2087L355.3 2074.9L360 2062.9L365.5 2050.4L373.5 2033.7L382 2017.5L391.3 2001.2L401.5 1984.6L412.1 1968.3L424.2 1950.9L437.2 1933.2L451 1915.3L468.6 1893.4L489.2 1868.8L512.2 1842.1L538.9 1811.8L561.6 1786.8L582.6 1764.3L602.5 1743.7L622.4 1723.7"/>
<path stroke="#96a63c" d="M327.6 2366.3L327.9 2300.7L328.6 2267.8L329.4 2245L330.7 2222.6L334 2178.3L336.1 2153.1L338 2133.5L339.9 2117.9L341.9 2104.5L344.2 2091.9L347.1 2079.4L350.4 2067.4L354.3 2055.2L358.9 2042.6L364.2 2029.3L371.7 2012.2L379.9 1995L388.5 1978.5L397.9 1961.7L407.7 1945.5L418.2 1929.1L430 1911.9L442.5 1894.6L459.3 1872.4L478.2 1848.5L500.2 1821.5L525.8 1791L546.5 1767L566.5 1744.4L585.6 1723.6L604.7 1703.5"/>
<path stroke="#828282" d="M327.6 2366.3L327.9 2298.7L328.6 2262.9L329.3 2240L330.4 2218.7L334.6 2155.8L336.3 2133.2L337.9 2114.8L339.6 2099.3L341.5 2085.7L343.8 2072.9L346.5 2060.4L349.7 2047.8L353.3 2035.5L357.7 2022.2L363.1 2007.5L370.1 1990L377.8 1972.4L386 1955L394.7 1938.2L403.7 1922.1L413.3 1906L424.1 1889.1L436.1 1871.4L451.5 1849.7L468.8 1826.5L489.9 1799.2L512.6 1770.7L532.3 1746.6L551.5 1723.9L569.9 1703L588.3 1682.9"/>
<path stroke="#8c6060" d="M327.6 2366.3L327.9 2297.1L328.5 2258.5L329.2 2235.2L330.1 2216.2L334.7 2136.3L336.2 2114.2L337.7 2096.2L339.3 2080.9L341.2 2066.7L343.5 2052.9L346.2 2039.7L349.2 2027.1L353 2013.6L357.5 1998.9L362.8 1983.2L369.8 1964.3L377.4 1945.5L385.2 1927.8L393.8 1909.9L402.7 1892.9L412.8 1875.1L423.5 1857.3L435.6 1838.6L450.4 1816.8L466.2 1794.8L484.6 1770.1L503.2 1746.2L520.4 1724.8L538.1 1703.8L556.1 1683.3L574.2 1663.6"/>
<path stroke="#6e966e" d="M327.6 2366.3L327.9 2295.7L328.5 2254.9L329.1 2230.9L329.8 2213.8L334.7 2119.1L336 2096.9L337.3 2079.1L338.8 2063.6L340.6 2048.8L342.8 2034.9L345.4 2021.3L348.4 2007.5L352.1 1993.3L356.8 1976.5L362 1959.7L368.5 1940.2L375.6 1921L382.8 1903.1L390.3 1886.1L398.8 1868.4L408 1850.9L418.3 1832.6L429.2 1814.5L442.7 1793.3L457.7 1770.9L474.5 1747.1L492.2 1722.9L508.7 1701.3L525.7 1680L541.7 1660.8L559 1640.9"/>
<path stroke="#3c8cb4" d="M327.6 2366.3L327.9 2293.9L328.5 2250.9L329 2226.5L334.5 2103L335.7 2080L337 2061.2L338.4 2045.2L340.2 2029.8L342.4 2015.5L344.9 2001.2L347.9 1986.8L351.7 1970.6L356.8 1951.2L361.9 1932.9L368.1 1912.7L374.7 1893L381.5 1874.8L388.5 1857.8L396.4 1840.2L404.9 1822.9L414.4 1804.9L424.9 1786.2L437.4 1765.6L451.3 1743.8L466.7 1720.8L482.1 1698.9L498 1677.3L513.3 1657.5L528.7 1638.3L545.4 1618.6"/>
<path stroke="#366494" d="M327.6 2366.3L327.9 2292.7L328.4 2247.6L328.9 2222.7L331.4 2162.8L334.2 2088L335.3 2064.3L336.5 2045.4L337.9 2028.7L339.6 2012.7L341.6 1997.8L344.1 1982.4L347.3 1966L351.4 1946.8L356.3 1925.7L361.1 1906.7L366.6 1886.7L372.2 1868.3L378.1 1851.1L384.3 1834.4L391.4 1817.3L398.9 1800.7L407.3 1783.5L416.7 1765.6L428.3 1744.9L441.2 1723L457.1 1697.3L472.4 1673.7L487.4 1651.4L501.8 1631L516.3 1611.2L530.9 1592.3"/>
<path stroke="#000000" d="M327.6 2366.3L327.9 2290.9L328.4 2244.1L328.9 2218.6L331.1 2157.2L333.8 2073.7L334.9 2048L336.1 2027.6L337.5 2010.3L339.2 1993.8L341.2 1977.7L343.7 1961.6L347.1 1942.3L351.9 1917.8L356.5 1896.3L361 1876.6L366.3 1855.9L371.5 1837.3L377 1820.1L382.8 1803.6L389.4 1786.8L396.7 1769.5L405 1751.8L413.6 1734.4L424.4 1714.3L436.4 1693.1L449.8 1670.8L463.7 1648.5L477.3 1627.9L491.3 1607.7L505.4 1588.3L519.5 1569.8"/>
<path stroke="#e61a1a" d="M327.6 2366.3L327.9 2289.8L328.8 2215.5L330.9 2151L333.4 2061L334.5 2034L335.6 2011.9L337 1993.3L338.5 1976.1L340.5 1959.3L342.8 1942.4L346.3 1920.7L351.1 1892.8L355.3 1870.6L359.7 1849.6L364.3 1829.7L368.8 1812.1L373.6 1795.2L379.1 1778.3L385.3 1761.1L391.9 1744.5L399.2 1727.5L407.4 1710L417.5 1689.7L428.8 1668.3L442.1 1644.5L455.3 1621.8L468.2 1600.7L480.5 1581.5L493.8 1561.7L507.2 1542.9"/>
<path stroke="#1010d0" d="M327.6 2366.3L327.9 2288.7L328.7 2212.4L330.7 2144.5L333.1 2047.9L334.1 2018.9L335.2 1995.1L336.5 1975.7L338 1957.7L339.9 1939.4L342.2 1920.9L345.8 1895.5L350.4 1866.3L354.4 1842.5L358.4 1821.2L362.4 1802.2L366.7 1783.9L371.4 1766.6L376.3 1750.1L381.9 1733.5L388.2 1716.6L395.2 1699.3L403 1681.6L412.2 1662.1L423 1640.5L435 1617.7L447.7 1594.8L460 1573.6L471.8 1554.4L483.7 1536L496.5 1517.1"/>
<path stroke="#e22ae6" d="M327.6 2366.3L327.9 2287L328.7 2208.9L332.7 2036.2L333.6 2005.1L334.7 1979.5L336 1958.4L337.4 1938.7L339.3 1918.7L341.6 1898.3L345.4 1868.5L349.3 1839.9L353 1815.6L356.8 1793.4L360.7 1773.6L364.6 1755.7L368.8 1738.9L373.5 1722.1L378.8 1705.1L384.4 1689L391.1 1671.5L398 1654.6L406.8 1634.9L417.1 1613.1L428.5 1590.1L439.9 1568.5L451.6 1547.2L462.8 1527.8L474.1 1509.4L486.3 1490.5"/>
<path stroke="#1c8a1c" d="M327.6 2366.3L327.9 2284.9L328.7 2204.9L332.4 2023.7L333.3 1989.5L334.4 1962L335.6 1939L337.1 1917.6L338.9 1896.2L341.1 1873.6L344.7 1841.6L348.2 1812.9L351.7 1787.4L355.2 1765.2L358.6 1745.8L362.3 1727.4L366.3 1710.2L370.8 1693L375.9 1675.7L381.3 1659.3L387.6 1641.6L394.3 1624.5L402.7 1604.6L412.1 1583.9L422.5 1562.2L433.4 1540.6L444 1520.8L454.8 1501.7L465.6 1483.5L477.4 1464.8"/>
</g>
<g font-family='"Liberation Serif", "Times New Roman", serif' fill="#000">
<text x="229" y="2389.3" font-size="72" text-anchor="end">0</text>
<text x="229" y="2247.22" font-size="72" text-anchor="end">4</text>
<text x="229" y="2105.14" font-size="72" text-anchor="end">8</text>
<text x="229" y="1963.06" font-size="72" text-anchor="end">12</text>
<text x="229" y="1820.98" font-size="72" text-anchor="end">16</text>
<text x="229" y="1678.9" font-size="72" text-anchor="end">20</text>
<text x="229" y="1536.82" font-size="72" text-anchor="end">24</text>
<text x="229" y="1394.74" font-size="72" text-anchor="end">28</text>
<text x="328.6" y="2507.7" font-size="72" text-anchor="middle">0</text>
<text x="543.06" y="2507.7" font-size="72" text-anchor="middle">200</text>
<text x="757.52" y="2507.7" font-size="72" text-anchor="middle">400</text>
<text x="971.98" y="2507.7" font-size="72" text-anchor="middle">600</text>
<text x="1186.44" y="2507.7" font-size="72" text-anchor="middle">800</text>
<text x="1400.9" y="2507.7" font-size="72" text-anchor="middle">1000</text>
<text x="1615.36" y="2507.7" font-size="72" text-anchor="middle">1200</text>
<text x="301" y="1424.2" font-size="79" text-anchor="start">(b)</text>
<text x="527" y="1431.8" font-size="72" text-anchor="middle">252 K</text>
<text x="1601.5" y="2183.7" font-size="72" text-anchor="middle">52 K</text>
<text x="987.5" y="2611.9" font-size="91.5" letter-spacing="-0.6" text-anchor="middle">[M (emu/gm)]<tspan font-size="55" dy="-45">2</tspan></text>
<text x="126" y="1874.2" font-size="91.5" letter-spacing="1.1" text-anchor="middle" transform="rotate(-90 126 1874.7)">H/M (Oe/emu-g<tspan font-size="55" dy="-45">-1</tspan><tspan font-family='"Liberation Sans", Arial, sans-serif' font-weight="bold" font-size="76" dy="45">×</tspan><tspan>10</tspan><tspan font-size="55" dy="-45">2</tspan><tspan dy="45">)</tspan></text>
</g>
<line x1="1629.6" y1="130.6" x2="1629.6" y2="415.5" stroke="#000" stroke-width="6.4" stroke-linecap="round"/>
<path fill="#000" d="M1629.6 110.6 L1619 148.1 L1629.6 143.1 L1640.2 148.1 Z"/>
<line x1="1629.6" y1="962" x2="1629.6" y2="671" stroke="#000" stroke-width="6.4" stroke-linecap="round"/>
<path fill="#000" d="M1629.6 982 L1619 944.5 L1629.6 949.5 L1640.2 944.5 Z"/>
<line x1="976.5" y1="1442.5" x2="976.5" y2="1857.4" stroke="#000" stroke-width="4.2" stroke-linecap="butt"/>
<line x1="974.4" y1="1855.3" x2="1527.3" y2="1855.3" stroke="#000" stroke-width="4.2" stroke-linecap="butt"/>
<line x1="976.5" y1="1753.9" x2="1527.3" y2="1753.9" stroke="#000" stroke-width="4.2" stroke-linecap="butt"/>
<line x1="976.5" y1="1845.76" x2="1001" y2="1845.76" stroke="#000" stroke-width="4.2" stroke-linecap="round"/>
<line x1="976.5" y1="1799.83" x2="989" y2="1799.83" stroke="#000" stroke-width="4.2" stroke-linecap="round"/>
<line x1="976.5" y1="1753.9" x2="1001" y2="1753.9" stroke="#000" stroke-width="4.2" stroke-linecap="round"/>
<line x1="976.5" y1="1707.97" x2="989" y2="1707.97" stroke="#000" stroke-width="4.2" stroke-linecap="round"/>
<line x1="976.5" y1="1662.04" x2="1001" y2="1662.04" stroke="#000" stroke-width="4.2" stroke-linecap="round"/>
<line x1="976.5" y1="1616.11" x2="989" y2="1616.11" stroke="#000" stroke-width="4.2" stroke-linecap="round"/>
<line x1="976.5" y1="1570.18" x2="1001" y2="1570.18" stroke="#000" stroke-width="4.2" stroke-linecap="round"/>
<line x1="976.5" y1="1524.25" x2="989" y2="1524.25" stroke="#000" stroke-width="4.2" stroke-linecap="round"/>
<line x1="976.5" y1="1478.32" x2="1001" y2="1478.32" stroke="#000" stroke-width="4.2" stroke-linecap="round"/>
<line x1="1018.4" y1="1855.3" x2="1018.4" y2="1832.3" stroke="#000" stroke-width="4.2" stroke-linecap="round"/>
<line x1="1059.51" y1="1855.3" x2="1059.51" y2="1843.8" stroke="#000" stroke-width="4.2" stroke-linecap="round"/>
<line x1="1100.62" y1="1855.3" x2="1100.62" y2="1832.3" stroke="#000" stroke-width="4.2" stroke-linecap="round"/>
<line x1="1141.73" y1="1855.3" x2="1141.73" y2="1843.8" stroke="#000" stroke-width="4.2" stroke-linecap="round"/>
<line x1="1182.84" y1="1855.3" x2="1182.84" y2="1832.3" stroke="#000" stroke-width="4.2" stroke-linecap="round"/>
<line x1="1223.95" y1="1855.3" x2="1223.95" y2="1843.8" stroke="#000" stroke-width="4.2" stroke-linecap="round"/>
<line x1="1265.06" y1="1855.3" x2="1265.06" y2="1832.3" stroke="#000" stroke-width="4.2" stroke-linecap="round"/>
<line x1="1306.17" y1="1855.3" x2="1306.17" y2="1843.8" stroke="#000" stroke-width="4.2" stroke-linecap="round"/>
<line x1="1347.28" y1="1855.3" x2="1347.28" y2="1832.3" stroke="#000" stroke-width="4.2" stroke-linecap="round"/>
<line x1="1388.39" y1="1855.3" x2="1388.39" y2="1843.8" stroke="#000" stroke-width="4.2" stroke-linecap="round"/>
<line x1="1429.5" y1="1855.3" x2="1429.5" y2="1832.3" stroke="#000" stroke-width="4.2" stroke-linecap="round"/>
<line x1="1470.61" y1="1855.3" x2="1470.61" y2="1843.8" stroke="#000" stroke-width="4.2" stroke-linecap="round"/>
<line x1="1511.72" y1="1855.3" x2="1511.72" y2="1832.3" stroke="#000" stroke-width="4.2" stroke-linecap="round"/>
<g font-family='"Liberation Serif", "Times New Roman", serif' fill="#000">
<text x="965" y="1858.26" font-size="47.5" text-anchor="end">-0.2</text>
<text x="965" y="1766.4" font-size="47.5" text-anchor="end">0.0</text>
<text x="965" y="1674.54" font-size="47.5" text-anchor="end">0.2</text>
<text x="965" y="1582.68" font-size="47.5" text-anchor="end">0.4</text>
<text x="965" y="1490.82" font-size="47.5" text-anchor="end">0.6</text>
<text x="1019.4" y="1904" font-size="47.5" text-anchor="middle">70</text>
<text x="1101.62" y="1904" font-size="47.5" text-anchor="middle">80</text>
<text x="1183.84" y="1904" font-size="47.5" text-anchor="middle">90</text>
<text x="1266.06" y="1904" font-size="47.5" text-anchor="middle">100</text>
<text x="1348.28" y="1904" font-size="47.5" text-anchor="middle">110</text>
<text x="1430.5" y="1904" font-size="47.5" text-anchor="middle">120</text>
<text x="1512.72" y="1904" font-size="47.5" text-anchor="middle">130</text>
<text x="1290.7" y="1967" font-size="57.5" text-anchor="middle">T (K)</text>
<text x="882.5" y="1632" font-size="60" text-anchor="start" transform="rotate(-90 882.5 1632)">C<tspan font-size="36" dy="20" dx="-3.5">3</tspan></text>
</g>
<path fill="none" stroke="#cc2ee0" stroke-width="4.3" stroke-linejoin="round" d="M1002 1840.2L1010.2 1838.4L1026.6 1834.2L1043.1 1829.5L1084.2 1816L1092.4 1813.1L1100.6 1809.9L1108.8 1806.3L1117.1 1802.2L1141.7 1788.9L1158.2 1779.5L1182.8 1764.5L1191.1 1759.3L1207.5 1748.3L1224 1736.4L1232.2 1730L1240.4 1722.9L1256.8 1707.5L1265.1 1700.2L1273.3 1693.4L1289.7 1680.5L1297.9 1673.5L1306.2 1665.8L1314.4 1657.6L1330.8 1640.5L1347.3 1622.8L1388.4 1577.5L1396.6 1567.9L1404.8 1557.8L1421.3 1536.6L1437.7 1514.4L1445.9 1503L1462.4 1479.2"/>
<circle cx="1002.0" cy="1840.2" r="4.7" fill="#fff" stroke="#cc2ee0" stroke-width="2.6"/>
<circle cx="1034.8" cy="1832.0" r="4.7" fill="#fff" stroke="#cc2ee0" stroke-width="2.6"/>
<circle cx="1067.7" cy="1821.4" r="4.7" fill="#fff" stroke="#cc2ee0" stroke-width="2.6"/>
<circle cx="1100.6" cy="1809.9" r="4.7" fill="#fff" stroke="#cc2ee0" stroke-width="2.6"/>
<circle cx="1133.5" cy="1793.4" r="4.7" fill="#fff" stroke="#cc2ee0" stroke-width="2.6"/>
<circle cx="1166.4" cy="1774.6" r="4.7" fill="#fff" stroke="#cc2ee0" stroke-width="2.6"/>
<circle cx="1199.3" cy="1753.9" r="4.7" fill="#fff" stroke="#cc2ee0" stroke-width="2.6"/>
<circle cx="1232.2" cy="1730.0" r="4.7" fill="#fff" stroke="#cc2ee0" stroke-width="2.6"/>
<circle cx="1265.1" cy="1700.2" r="4.7" fill="#fff" stroke="#cc2ee0" stroke-width="2.6"/>
<circle cx="1297.9" cy="1673.5" r="4.7" fill="#fff" stroke="#cc2ee0" stroke-width="2.6"/>
<circle cx="1330.8" cy="1640.5" r="4.7" fill="#fff" stroke="#cc2ee0" stroke-width="2.6"/>
<circle cx="1363.7" cy="1604.6" r="4.7" fill="#fff" stroke="#cc2ee0" stroke-width="2.6"/>
<circle cx="1396.6" cy="1567.9" r="4.7" fill="#fff" stroke="#cc2ee0" stroke-width="2.6"/>
<circle cx="1429.5" cy="1525.6" r="4.7" fill="#fff" stroke="#cc2ee0" stroke-width="2.6"/>
<circle cx="1462.4" cy="1479.2" r="4.7" fill="#fff" stroke="#cc2ee0" stroke-width="2.6"/>
</svg>
</body>
</html>
